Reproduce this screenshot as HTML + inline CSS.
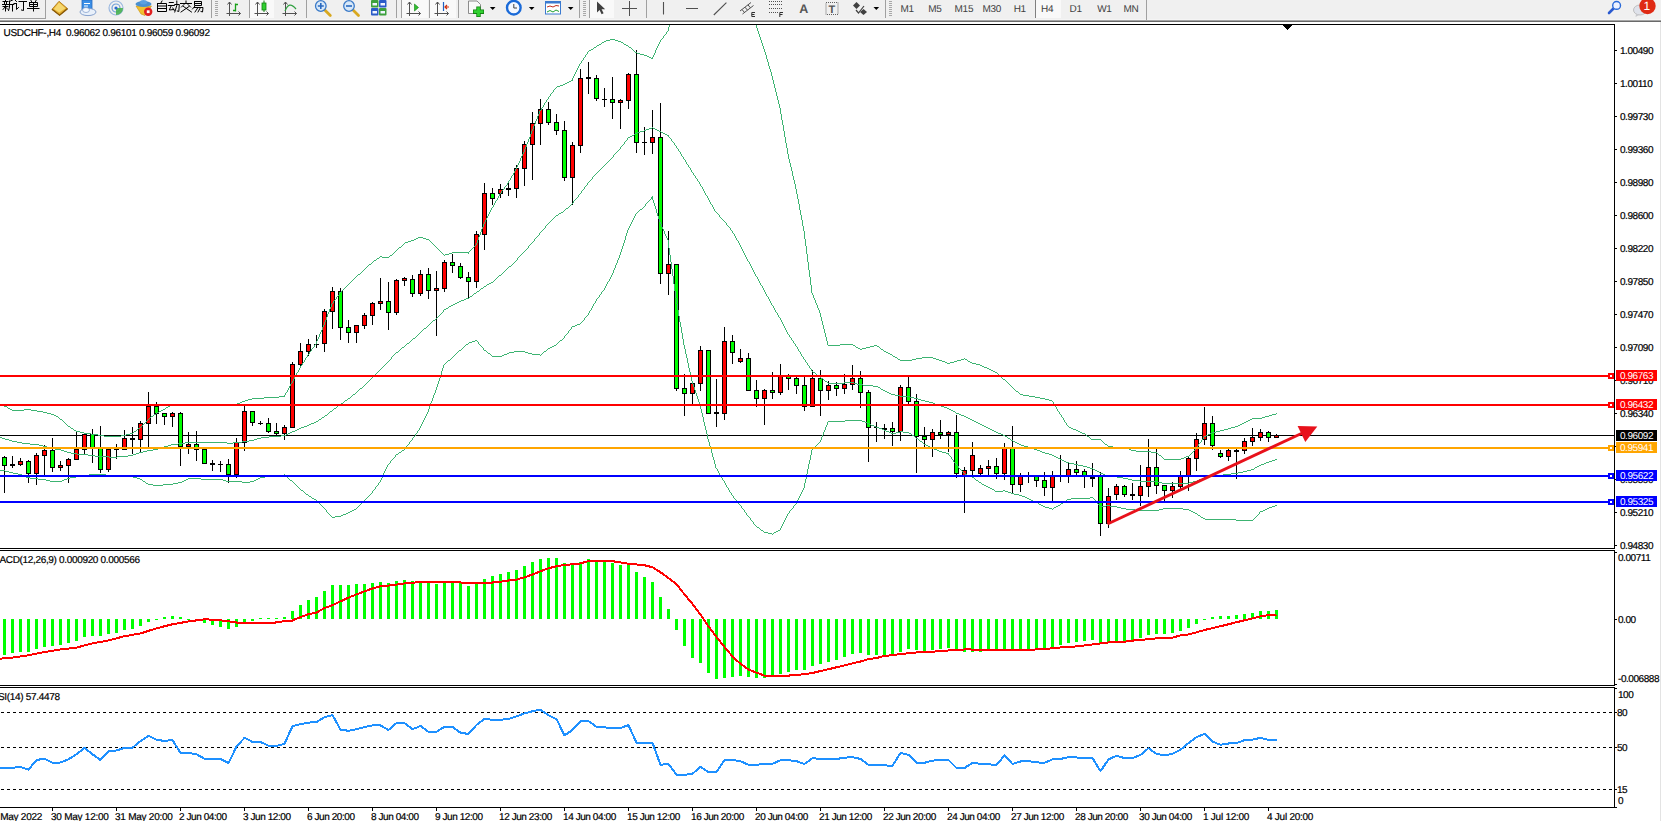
<!DOCTYPE html>
<html><head><meta charset="utf-8"><title>USDCHF H4</title>
<style>
html,body{margin:0;padding:0;background:#fff;overflow:hidden}
#w{position:absolute;left:0;top:0;width:1661px;height:821px;overflow:hidden}
body{width:1661px;height:821px;overflow:hidden;position:relative;font-family:"Liberation Sans",sans-serif}
svg{position:absolute;left:0;top:0;display:block}
.t{position:absolute;white-space:nowrap;font-size:10px;line-height:11px;color:#000;text-rendering:geometricPrecision;-webkit-text-stroke:0.2px currentColor}
.b{position:absolute;left:1616px;width:41px;height:10px;padding-top:1px;color:#fff;font-size:10px;line-height:11px;text-rendering:geometricPrecision;letter-spacing:-0.45px;text-indent:4px;white-space:nowrap;overflow:hidden}
</style></head><body><div id="w">
<svg width="1661" height="821" viewBox="0 0 1661 821" shape-rendering="crispEdges"><defs><clipPath id="cm"><rect x="0" y="25" width="1614" height="523"/></clipPath></defs><rect x="0" y="0" width="1661" height="19" fill="#f0f0f0"/><rect x="0" y="19" width="1661" height="1" fill="#f5f5f5"/><rect x="0" y="20" width="1661" height="1" fill="#a6a6a6"/><rect x="0" y="21" width="1661" height="1" fill="#696969"/><rect x="1660" y="22" width="1" height="799" fill="#e3e3e3"/><rect x="0" y="18" width="46" height="1" fill="#a0a0a0"/><rect x="45" y="0" width="1" height="19" fill="#a0a0a0"/><rect x="250" y="0" width="24" height="18" fill="#f9f9f9"/><rect x="402" y="0" width="26" height="18" fill="#f9f9f9"/><rect x="430" y="0" width="26" height="18" fill="#f9f9f9"/><rect x="590" y="0" width="24" height="18" fill="#f9f9f9"/><rect x="1036" y="0" width="25" height="18" fill="#f9f9f9"/><rect x="211" y="0" width="1" height="18" fill="#a0a0a0"/><rect x="249" y="0" width="1" height="18" fill="#a0a0a0"/><rect x="306" y="0" width="1" height="18" fill="#a0a0a0"/><rect x="396" y="0" width="1" height="18" fill="#a0a0a0"/><rect x="401" y="0" width="1" height="18" fill="#a0a0a0"/><rect x="429" y="0" width="1" height="18" fill="#a0a0a0"/><rect x="458" y="0" width="1" height="18" fill="#a0a0a0"/><rect x="579" y="0" width="1" height="18" fill="#a0a0a0"/><rect x="589" y="0" width="1" height="18" fill="#a0a0a0"/><rect x="646" y="0" width="1" height="18" fill="#a0a0a0"/><rect x="885" y="0" width="1" height="18" fill="#a0a0a0"/><rect x="1035" y="0" width="1" height="18" fill="#808080"/><rect x="1146" y="0" width="1" height="20" fill="#a0a0a0"/><rect x="215" y="1" width="3" height="1" fill="#a8a8a8"/><rect x="215" y="3" width="3" height="1" fill="#a8a8a8"/><rect x="215" y="5" width="3" height="1" fill="#a8a8a8"/><rect x="215" y="7" width="3" height="1" fill="#a8a8a8"/><rect x="215" y="9" width="3" height="1" fill="#a8a8a8"/><rect x="215" y="11" width="3" height="1" fill="#a8a8a8"/><rect x="215" y="13" width="3" height="1" fill="#a8a8a8"/><rect x="215" y="15" width="3" height="1" fill="#a8a8a8"/><rect x="583" y="1" width="3" height="1" fill="#a8a8a8"/><rect x="583" y="3" width="3" height="1" fill="#a8a8a8"/><rect x="583" y="5" width="3" height="1" fill="#a8a8a8"/><rect x="583" y="7" width="3" height="1" fill="#a8a8a8"/><rect x="583" y="9" width="3" height="1" fill="#a8a8a8"/><rect x="583" y="11" width="3" height="1" fill="#a8a8a8"/><rect x="583" y="13" width="3" height="1" fill="#a8a8a8"/><rect x="583" y="15" width="3" height="1" fill="#a8a8a8"/><rect x="889" y="1" width="3" height="1" fill="#a8a8a8"/><rect x="889" y="3" width="3" height="1" fill="#a8a8a8"/><rect x="889" y="5" width="3" height="1" fill="#a8a8a8"/><rect x="889" y="7" width="3" height="1" fill="#a8a8a8"/><rect x="889" y="9" width="3" height="1" fill="#a8a8a8"/><rect x="889" y="11" width="3" height="1" fill="#a8a8a8"/><rect x="889" y="13" width="3" height="1" fill="#a8a8a8"/><rect x="889" y="15" width="3" height="1" fill="#a8a8a8"/><g shape-rendering="geometricPrecision"><path d="M5.5 -1.0 L5.5 0.5M3.0 1.5 L8.0 1.5M4.5 2.5 L4.5 4.0M6.5 2.5 L6.5 4.0M2.5 4.5 L8.5 4.5M3.0 6.5 L8.0 6.5M5.5 4.5 L5.5 11.0M5.0 7.0 L3.0 9.5M6.0 7.5 L8.0 9.5M13.0 -0.2 L10.0 1.2M9.5 1.0 L9.5 7.0 L8.6 10.5M9.5 4.5 L13.8 4.5M12.5 4.5 L12.5 11.0" fill="none" stroke="#000" stroke-width="1.0" stroke-linecap="square"/><path d="M15.0 0.0 L16.5 1.5M14.0 3.5 L16.5 3.5M16.5 3.5 L16.5 9.5 L18.5 7.5M19.0 1.5 L26.5 1.5M23.5 1.5 L23.5 10.5 L21.5 10.0" fill="none" stroke="#000" stroke-width="1.0" stroke-linecap="square"/><path d="M30.5 -0.5 L31.5 1.5M36.5 -0.5 L35.5 1.5M29.5 2.5 L37.5 2.5 L37.5 6.5 L29.5 6.5 L29.5 2.5M29.5 4.5 L37.5 4.5M33.5 2.5 L33.5 11.0M27.5 8.5 L39.0 8.5" fill="none" stroke="#000" stroke-width="1.0" stroke-linecap="square"/><path d="M162.0 1.0 L161.0 2.8M157.5 3.5 L166.5 3.5 L166.5 11.5 L157.5 11.5 L157.5 3.5M157.5 6.0 L166.5 6.0M157.5 8.5 L166.5 8.5" fill="none" stroke="#000" stroke-width="1.0" stroke-linecap="square"/><path d="M169.3 2.5 L173.3 2.5M168.3 5.5 L174.3 5.5M171.3 5.5 L169.3 10.0 L173.8 9.5M172.8 8.0 L174.3 10.5M174.8 4.5 L179.3 4.5 L178.8 11.5 L177.3 11.0M176.8 1.0 L176.8 5.5 L174.8 12.0" fill="none" stroke="#000" stroke-width="1.0" stroke-linecap="square"/><path d="M186.0 1.0 L186.0 2.5M180.5 3.5 L191.5 3.5M184.0 4.5 L181.5 7.0M188.0 4.5 L190.5 7.0M189.0 6.5 L181.0 12.0M183.5 6.5 L191.5 12.0" fill="none" stroke="#000" stroke-width="1.0" stroke-linecap="square"/><path d="M194.5 1.5 L201.5 1.5 L201.5 5.5 L194.5 5.5 L194.5 1.5M194.5 3.5 L201.5 3.5M195.0 6.0 L192.5 9.0M194.5 7.5 L203.0 7.5 L202.5 12.0 L201.0 11.5M198.0 7.5 L195.0 12.0M200.5 7.5 L198.0 12.0" fill="none" stroke="#000" stroke-width="1.0" stroke-linecap="square"/><polygon points="59,1.3 67.5,8.6 59.6,15.2 52,9.3" fill="#e6b030" stroke="#a87010" stroke-width="0.8"/><polygon points="59,2.5 65.5,8.2 59.3,12.6 54,9" fill="#f6d870"/><path d="M52 9.3 L59.6 15.2 L67.5 8.6" fill="none" stroke="#8a5a08" stroke-width="1.4"/><rect x="82" y="0" width="10" height="10" fill="#3a8ee6" stroke="#2a6cc0" stroke-width="0.8"/><rect x="84" y="3" width="6" height="1" fill="#fff"/><rect x="84" y="5.5" width="4" height="1" fill="#fff"/><ellipse cx="88" cy="12" rx="8" ry="3.6" fill="#e8f0fa" stroke="#7a98c8" stroke-width="0.9"/><ellipse cx="86" cy="10" rx="3.5" ry="2.5" fill="#f4f8fd" stroke="#7a98c8" stroke-width="0.7"/><circle cx="116" cy="8" r="7" fill="none" stroke="#9ab8e0" stroke-width="1.2"/><circle cx="116" cy="8" r="4" fill="none" stroke="#6f9fd8" stroke-width="1.2"/><path d="M116 8 L116 15 A7 7 0 0 0 123 8 Z" fill="#46b050" opacity="0.9"/><circle cx="116" cy="8" r="1.6" fill="#2a6ad0"/><polygon points="136,6 151.5,6 145,15.5 141,14" fill="#f0c030" stroke="#c89010" stroke-width="0.6"/><ellipse cx="143.5" cy="4" rx="8" ry="3" fill="#4a90d0"/><ellipse cx="143.5" cy="2.2" rx="3.5" ry="2.2" fill="#5aa0e0"/><circle cx="148.2" cy="11.7" r="4.2" fill="#e02020"/><rect x="146.8" y="10.3" width="2.8" height="2.8" fill="#fff"/><path d="M229.5 2 V16 M226.5 13.5 H240.5" stroke="#505050" stroke-width="1" fill="none"/><path d="M227.5 4.5 L229.5 2 L231.5 4.5 M238.5 11.5 L240.5 13.5 L238.5 15.5" stroke="#505050" stroke-width="1" fill="none"/><path d="M235.5 3.5 V11.5 M233 10.5 H235.5 M235.5 4.5 H238" stroke="#18a018" stroke-width="1.3" fill="none"/><path d="M257.5 2 V16 M254.5 13.5 H268.5" stroke="#505050" stroke-width="1" fill="none"/><path d="M255.5 4.5 L257.5 2 L259.5 4.5 M266.5 11.5 L268.5 13.5 L266.5 15.5" stroke="#505050" stroke-width="1" fill="none"/><rect x="262" y="3" width="4" height="7" fill="#30d030" stroke="#108010" stroke-width="0.8"/><path d="M264 0.5 V3 M264 10 V12" stroke="#108010" stroke-width="1"/><path d="M285.5 2 V16 M282.5 13.5 H296.5" stroke="#505050" stroke-width="1" fill="none"/><path d="M283.5 4.5 L285.5 2 L287.5 4.5 M294.5 11.5 L296.5 13.5 L294.5 15.5" stroke="#505050" stroke-width="1" fill="none"/><path d="M285 11 C288 4 291 3 296 9" stroke="#30a040" stroke-width="1.2" fill="none"/><path d="M409.5 2 V16 M406.5 13.5 H420.5" stroke="#505050" stroke-width="1" fill="none"/><path d="M407.5 4.5 L409.5 2 L411.5 4.5 M418.5 11.5 L420.5 13.5 L418.5 15.5" stroke="#505050" stroke-width="1" fill="none"/><polygon points="414.5,4 418.5,7.5 414.5,11" fill="#30c030" stroke="#108010" stroke-width="0.6"/><path d="M437.5 2 V16 M434.5 13.5 H448.5" stroke="#505050" stroke-width="1" fill="none"/><path d="M435.5 4.5 L437.5 2 L439.5 4.5 M446.5 11.5 L448.5 13.5 L446.5 15.5" stroke="#505050" stroke-width="1" fill="none"/><path d="M443.5 2 V11" stroke="#2060c0" stroke-width="1.2"/><path d="M445 7 H449 M447 5 L445 7 L447 9" stroke="#d03010" stroke-width="1.2" fill="none"/><path d="M324.8 10 L330.3 15.5" stroke="#d8a820" stroke-width="2.8" stroke-linecap="round"/><circle cx="320.8" cy="6" r="5.3" fill="#d8e8f8" stroke="#3a7ac8" stroke-width="1.3"/><path d="M317.8 6 H323.8 M320.8 3 V9" stroke="#2a6ac0" stroke-width="1.6"/><path d="M353 10 L358.5 15.5" stroke="#d8a820" stroke-width="2.8" stroke-linecap="round"/><circle cx="349" cy="6" r="5.3" fill="#d8e8f8" stroke="#3a7ac8" stroke-width="1.3"/><path d="M346 6 H352" stroke="#2a6ac0" stroke-width="1.6"/><rect x="371" y="0" width="7.5" height="7.5" rx="1" fill="#3ca03c"/><rect x="372.5" y="3" width="4.5" height="2.5" fill="#f0f4ff"/><rect x="379" y="0" width="7.5" height="7.5" rx="1" fill="#2a5cc8"/><rect x="380.5" y="3" width="4.5" height="2.5" fill="#f0f4ff"/><rect x="371" y="8" width="7.5" height="7.5" rx="1" fill="#2a5cc8"/><rect x="372.5" y="11" width="4.5" height="2.5" fill="#f0f4ff"/><rect x="379" y="8" width="7.5" height="7.5" rx="1" fill="#3ca03c"/><rect x="380.5" y="11" width="4.5" height="2.5" fill="#f0f4ff"/><path d="M468.5 1 H477 L480.5 4.5 V13.5 H468.5 Z" fill="#fafafa" stroke="#808080" stroke-width="0.9"/><path d="M478.5 6.5 V17 M473 11.7 H484" stroke="#108010" stroke-width="4.4"/><path d="M478.5 7.2 V16.3 M473.7 11.7 H483.3" stroke="#30d030" stroke-width="2.8"/><polygon points="489.9,7 495.5,7 492.7,10" fill="#000"/><polygon points="528.9000000000001,7 534.5,7 531.7,10" fill="#000"/><polygon points="567.9000000000001,7 573.5,7 570.7,10" fill="#000"/><polygon points="873.5,7 879.0999999999999,7 876.3,10" fill="#000"/><circle cx="513.8" cy="7.7" r="6.8" fill="#f4f8ff" stroke="#1a6ad8" stroke-width="2.4"/><path d="M513.8 4 V8 H517" stroke="#404040" stroke-width="1" fill="none"/><rect x="545.5" y="1.5" width="15" height="12.5" fill="#fff" stroke="#3a7ad0" stroke-width="1"/><rect x="545.5" y="1.5" width="15" height="2" fill="#3a7ad0"/><path d="M547 7 L550 6 L553 7 L556 5.5 L559 6" stroke="#c03020" stroke-width="1" fill="none"/><path d="M547 12 L550 10.5 L553 12 L556 10 L559 11.5" stroke="#20a030" stroke-width="1" fill="none"/><polygon points="597,1.5 597,12.5 599.6,10 601.6,14.3 603.6,13.3 601.6,9.2 605.2,9.2" fill="#404040"/><path d="M622 8.5 H637 M629.5 1 V16" stroke="#505050" stroke-width="1" fill="none"/><path d="M663.5 2 V14.5 M686 8.5 H698 M713.8 15 L726.4 2.6" stroke="#505050" stroke-width="1.1" fill="none"/><path d="M740 11 L751 2.5 M742.5 14 L753.5 5.5 M742 9.5 L744.5 12.5 M745 7.2 L747.5 10.2 M748 4.9 L750.5 7.9" stroke="#505050" stroke-width="1" fill="none"/><path d="M755 12.5 H751.8 V16.5 H755 M751.8 14.5 H754.5" stroke="#303030" stroke-width="1" fill="none"/><line x1="769" y1="1.5" x2="782" y2="1.5" stroke="#505050" stroke-width="1" stroke-dasharray="1 1"/><line x1="769" y1="4.5" x2="782" y2="4.5" stroke="#505050" stroke-width="1" stroke-dasharray="1 1"/><line x1="769" y1="8.5" x2="782" y2="8.5" stroke="#505050" stroke-width="1" stroke-dasharray="1 1"/><line x1="769" y1="12.5" x2="778" y2="12.5" stroke="#505050" stroke-width="1" stroke-dasharray="1 1"/><path d="M783 12.5 H779.8 V17 M779.8 14.5 H782.5" stroke="#303030" stroke-width="1" fill="none"/><rect x="826" y="2.5" width="12" height="12" fill="none" stroke="#606060" stroke-width="1" stroke-dasharray="1 1"/><polygon points="856.5,2 860,5.5 856.5,9 853,5.5" fill="#404040"/><polygon points="863.5,9 867,12 863.5,15 860,12" fill="#404040"/><path d="M856 10 L858.5 13 L864 6" stroke="#404040" stroke-width="1.2" fill="none"/><path d="M1613.5 8.5 L1609 13" stroke="#2a5ad0" stroke-width="2.6" stroke-linecap="round"/><circle cx="1616.6" cy="5.4" r="3.9" fill="#eef2ff" stroke="#2a6ad8" stroke-width="1.4"/><ellipse cx="1640" cy="10" rx="6.5" ry="5" fill="#dfe2ea" stroke="#b4b4b4" stroke-width="0.8"/><polygon points="1636,14 1635.5,17 1639.5,14.8" fill="#c8c8cc"/><circle cx="1647.5" cy="6" r="8.2" fill="#df2a14"/></g><rect x="0" y="24" width="1615" height="1" fill="#000"/><rect x="1614" y="24" width="1" height="784" fill="#000"/><rect x="0" y="548" width="1615" height="1" fill="#000"/><rect x="0" y="550" width="1615" height="1" fill="#000"/><rect x="0" y="685" width="1615" height="1" fill="#000"/><rect x="0" y="687" width="1615" height="1" fill="#000"/><rect x="0" y="807" width="1615" height="1" fill="#000"/><rect x="1614" y="549" width="1" height="1" fill="#fff"/><rect x="1614" y="686" width="1" height="1" fill="#fff"/><rect x="1283" y="25" width="9" height="1" fill="#000"/><rect x="1284" y="26" width="7" height="1" fill="#000"/><rect x="1285" y="27" width="5" height="1" fill="#000"/><rect x="1286" y="28" width="3" height="1" fill="#000"/><rect x="1287" y="29" width="1" height="1" fill="#000"/><rect x="1615" y="50" width="2" height="1" fill="#000"/><rect x="1615" y="83" width="2" height="1" fill="#000"/><rect x="1615" y="116" width="2" height="1" fill="#000"/><rect x="1615" y="149" width="2" height="1" fill="#000"/><rect x="1615" y="182" width="2" height="1" fill="#000"/><rect x="1615" y="215" width="2" height="1" fill="#000"/><rect x="1615" y="248" width="2" height="1" fill="#000"/><rect x="1615" y="281" width="2" height="1" fill="#000"/><rect x="1615" y="314" width="2" height="1" fill="#000"/><rect x="1615" y="347" width="2" height="1" fill="#000"/><rect x="1615" y="380" width="2" height="1" fill="#000"/><rect x="1615" y="413" width="2" height="1" fill="#000"/><rect x="1615" y="446" width="2" height="1" fill="#000"/><rect x="1615" y="479" width="2" height="1" fill="#000"/><rect x="1615" y="512" width="2" height="1" fill="#000"/><rect x="1615" y="545" width="2" height="1" fill="#000"/><rect x="1615" y="552" width="2" height="1" fill="#000"/><rect x="1615" y="619" width="2" height="1" fill="#000"/><rect x="1615" y="684" width="2" height="1" fill="#000"/><rect x="1615" y="688" width="2" height="1" fill="#000"/><rect x="1615" y="712" width="2" height="1" fill="#000"/><rect x="1615" y="747" width="2" height="1" fill="#000"/><rect x="1615" y="789" width="2" height="1" fill="#000"/><rect x="1615" y="807" width="2" height="1" fill="#000"/><rect x="52" y="808" width="1" height="3" fill="#000"/><rect x="116" y="808" width="1" height="3" fill="#000"/><rect x="180" y="808" width="1" height="3" fill="#000"/><rect x="244" y="808" width="1" height="3" fill="#000"/><rect x="308" y="808" width="1" height="3" fill="#000"/><rect x="372" y="808" width="1" height="3" fill="#000"/><rect x="436" y="808" width="1" height="3" fill="#000"/><rect x="500" y="808" width="1" height="3" fill="#000"/><rect x="564" y="808" width="1" height="3" fill="#000"/><rect x="628" y="808" width="1" height="3" fill="#000"/><rect x="692" y="808" width="1" height="3" fill="#000"/><rect x="756" y="808" width="1" height="3" fill="#000"/><rect x="820" y="808" width="1" height="3" fill="#000"/><rect x="884" y="808" width="1" height="3" fill="#000"/><rect x="948" y="808" width="1" height="3" fill="#000"/><rect x="1012" y="808" width="1" height="3" fill="#000"/><rect x="1076" y="808" width="1" height="3" fill="#000"/><rect x="1140" y="808" width="1" height="3" fill="#000"/><rect x="1204" y="808" width="1" height="3" fill="#000"/><rect x="1268" y="808" width="1" height="3" fill="#000"/><g clip-path="url(#cm)"><rect x="0" y="435" width="1614" height="1" fill="#000"/><rect x="4" y="456" width="1" height="37" fill="#000"/><rect x="2" y="457" width="5" height="9" fill="#000"/><rect x="3" y="458" width="3" height="7" fill="#0f0"/><rect x="12" y="456" width="1" height="12" fill="#000"/><rect x="10" y="464" width="5" height="2" fill="#000"/><rect x="20" y="458" width="1" height="8" fill="#000"/><rect x="18" y="461" width="5" height="4" fill="#000"/><rect x="19" y="462" width="3" height="2" fill="#f00"/><rect x="28" y="460" width="1" height="23" fill="#000"/><rect x="26" y="461" width="5" height="13" fill="#000"/><rect x="27" y="462" width="3" height="11" fill="#0f0"/><rect x="36" y="453" width="1" height="32" fill="#000"/><rect x="34" y="455" width="5" height="19" fill="#000"/><rect x="35" y="456" width="3" height="17" fill="#f00"/><rect x="44" y="445" width="1" height="30" fill="#000"/><rect x="42" y="450" width="5" height="6" fill="#000"/><rect x="43" y="451" width="3" height="4" fill="#f00"/><rect x="52" y="438" width="1" height="34" fill="#000"/><rect x="50" y="450" width="5" height="18" fill="#000"/><rect x="51" y="451" width="3" height="16" fill="#0f0"/><rect x="60" y="461" width="1" height="10" fill="#000"/><rect x="58" y="465" width="5" height="3" fill="#000"/><rect x="59" y="466" width="3" height="1" fill="#f00"/><rect x="68" y="458" width="1" height="25" fill="#000"/><rect x="66" y="459" width="5" height="7" fill="#000"/><rect x="67" y="460" width="3" height="5" fill="#f00"/><rect x="76" y="432" width="1" height="28" fill="#000"/><rect x="74" y="449" width="5" height="11" fill="#000"/><rect x="75" y="450" width="3" height="9" fill="#f00"/><rect x="84" y="433" width="1" height="21" fill="#000"/><rect x="82" y="434" width="5" height="16" fill="#000"/><rect x="83" y="435" width="3" height="14" fill="#f00"/><rect x="92" y="429" width="1" height="34" fill="#000"/><rect x="90" y="434" width="5" height="15" fill="#000"/><rect x="91" y="435" width="3" height="13" fill="#0f0"/><rect x="100" y="426" width="1" height="47" fill="#000"/><rect x="98" y="448" width="5" height="22" fill="#000"/><rect x="99" y="449" width="3" height="20" fill="#0f0"/><rect x="108" y="449" width="1" height="23" fill="#000"/><rect x="106" y="449" width="5" height="21" fill="#000"/><rect x="107" y="450" width="3" height="19" fill="#f00"/><rect x="116" y="444" width="1" height="15" fill="#000"/><rect x="114" y="449" width="5" height="1" fill="#000"/><rect x="124" y="430" width="1" height="20" fill="#000"/><rect x="122" y="438" width="5" height="12" fill="#000"/><rect x="123" y="439" width="3" height="10" fill="#f00"/><rect x="132" y="427" width="1" height="27" fill="#000"/><rect x="130" y="438" width="5" height="2" fill="#000"/><rect x="140" y="421" width="1" height="31" fill="#000"/><rect x="138" y="423" width="5" height="17" fill="#000"/><rect x="139" y="424" width="3" height="15" fill="#f00"/><rect x="148" y="392" width="1" height="55" fill="#000"/><rect x="146" y="406" width="5" height="18" fill="#000"/><rect x="147" y="407" width="3" height="16" fill="#f00"/><rect x="156" y="402" width="1" height="22" fill="#000"/><rect x="154" y="406" width="5" height="8" fill="#000"/><rect x="155" y="407" width="3" height="6" fill="#0f0"/><rect x="164" y="413" width="1" height="12" fill="#000"/><rect x="162" y="413" width="5" height="4" fill="#000"/><rect x="163" y="414" width="3" height="2" fill="#0f0"/><rect x="172" y="412" width="1" height="15" fill="#000"/><rect x="170" y="413" width="5" height="4" fill="#000"/><rect x="171" y="414" width="3" height="2" fill="#f00"/><rect x="180" y="412" width="1" height="54" fill="#000"/><rect x="178" y="413" width="5" height="34" fill="#000"/><rect x="179" y="414" width="3" height="32" fill="#0f0"/><rect x="188" y="432" width="1" height="22" fill="#000"/><rect x="186" y="444" width="5" height="3" fill="#000"/><rect x="187" y="445" width="3" height="1" fill="#f00"/><rect x="196" y="431" width="1" height="30" fill="#000"/><rect x="194" y="444" width="5" height="6" fill="#000"/><rect x="195" y="445" width="3" height="4" fill="#0f0"/><rect x="204" y="449" width="1" height="15" fill="#000"/><rect x="202" y="449" width="5" height="15" fill="#000"/><rect x="203" y="450" width="3" height="13" fill="#0f0"/><rect x="212" y="460" width="1" height="11" fill="#000"/><rect x="210" y="463" width="5" height="2" fill="#000"/><rect x="220" y="461" width="1" height="11" fill="#000"/><rect x="218" y="464" width="5" height="1" fill="#000"/><rect x="228" y="459" width="1" height="24" fill="#000"/><rect x="226" y="464" width="5" height="11" fill="#000"/><rect x="227" y="465" width="3" height="9" fill="#0f0"/><rect x="236" y="438" width="1" height="40" fill="#000"/><rect x="234" y="442" width="5" height="33" fill="#000"/><rect x="235" y="443" width="3" height="31" fill="#f00"/><rect x="244" y="406" width="1" height="45" fill="#000"/><rect x="242" y="411" width="5" height="32" fill="#000"/><rect x="243" y="412" width="3" height="30" fill="#f00"/><rect x="252" y="411" width="1" height="15" fill="#000"/><rect x="250" y="411" width="5" height="12" fill="#000"/><rect x="251" y="412" width="3" height="10" fill="#0f0"/><rect x="260" y="421" width="1" height="4" fill="#000"/><rect x="258" y="423" width="5" height="1" fill="#000"/><rect x="268" y="418" width="1" height="15" fill="#000"/><rect x="266" y="423" width="5" height="9" fill="#000"/><rect x="267" y="424" width="3" height="7" fill="#0f0"/><rect x="276" y="423" width="1" height="13" fill="#000"/><rect x="274" y="431" width="5" height="3" fill="#000"/><rect x="275" y="432" width="3" height="1" fill="#0f0"/><rect x="284" y="425" width="1" height="15" fill="#000"/><rect x="282" y="427" width="5" height="7" fill="#000"/><rect x="283" y="428" width="3" height="5" fill="#f00"/><rect x="292" y="362" width="1" height="66" fill="#000"/><rect x="290" y="364" width="5" height="64" fill="#000"/><rect x="291" y="365" width="3" height="62" fill="#f00"/><rect x="300" y="343" width="1" height="24" fill="#000"/><rect x="298" y="351" width="5" height="14" fill="#000"/><rect x="299" y="352" width="3" height="12" fill="#f00"/><rect x="308" y="339" width="1" height="17" fill="#000"/><rect x="306" y="344" width="5" height="8" fill="#000"/><rect x="307" y="345" width="3" height="6" fill="#f00"/><rect x="316" y="335" width="1" height="13" fill="#000"/><rect x="314" y="344" width="5" height="1" fill="#000"/><rect x="324" y="309" width="1" height="43" fill="#000"/><rect x="322" y="311" width="5" height="33" fill="#000"/><rect x="323" y="312" width="3" height="31" fill="#f00"/><rect x="332" y="287" width="1" height="42" fill="#000"/><rect x="330" y="291" width="5" height="21" fill="#000"/><rect x="331" y="292" width="3" height="19" fill="#f00"/><rect x="340" y="288" width="1" height="52" fill="#000"/><rect x="338" y="291" width="5" height="37" fill="#000"/><rect x="339" y="292" width="3" height="35" fill="#0f0"/><rect x="348" y="320" width="1" height="23" fill="#000"/><rect x="346" y="327" width="5" height="6" fill="#000"/><rect x="347" y="328" width="3" height="4" fill="#0f0"/><rect x="356" y="325" width="1" height="18" fill="#000"/><rect x="354" y="325" width="5" height="8" fill="#000"/><rect x="355" y="326" width="3" height="6" fill="#f00"/><rect x="364" y="313" width="1" height="16" fill="#000"/><rect x="362" y="315" width="5" height="11" fill="#000"/><rect x="363" y="316" width="3" height="9" fill="#f00"/><rect x="372" y="302" width="1" height="23" fill="#000"/><rect x="370" y="303" width="5" height="13" fill="#000"/><rect x="371" y="304" width="3" height="11" fill="#f00"/><rect x="380" y="278" width="1" height="32" fill="#000"/><rect x="378" y="301" width="5" height="3" fill="#000"/><rect x="379" y="302" width="3" height="1" fill="#f00"/><rect x="388" y="282" width="1" height="48" fill="#000"/><rect x="386" y="301" width="5" height="12" fill="#000"/><rect x="387" y="302" width="3" height="10" fill="#0f0"/><rect x="396" y="279" width="1" height="36" fill="#000"/><rect x="394" y="280" width="5" height="33" fill="#000"/><rect x="395" y="281" width="3" height="31" fill="#f00"/><rect x="404" y="277" width="1" height="9" fill="#000"/><rect x="402" y="278" width="5" height="3" fill="#000"/><rect x="403" y="279" width="3" height="1" fill="#f00"/><rect x="412" y="275" width="1" height="22" fill="#000"/><rect x="410" y="279" width="5" height="15" fill="#000"/><rect x="411" y="280" width="3" height="13" fill="#0f0"/><rect x="420" y="270" width="1" height="26" fill="#000"/><rect x="418" y="274" width="5" height="20" fill="#000"/><rect x="419" y="275" width="3" height="18" fill="#f00"/><rect x="428" y="268" width="1" height="31" fill="#000"/><rect x="426" y="274" width="5" height="17" fill="#000"/><rect x="427" y="275" width="3" height="15" fill="#0f0"/><rect x="436" y="271" width="1" height="65" fill="#000"/><rect x="434" y="288" width="5" height="3" fill="#000"/><rect x="435" y="289" width="3" height="1" fill="#f00"/><rect x="444" y="260" width="1" height="32" fill="#000"/><rect x="442" y="262" width="5" height="27" fill="#000"/><rect x="443" y="263" width="3" height="25" fill="#f00"/><rect x="452" y="254" width="1" height="19" fill="#000"/><rect x="450" y="262" width="5" height="4" fill="#000"/><rect x="451" y="263" width="3" height="2" fill="#0f0"/><rect x="460" y="263" width="1" height="16" fill="#000"/><rect x="458" y="266" width="5" height="12" fill="#000"/><rect x="459" y="267" width="3" height="10" fill="#0f0"/><rect x="468" y="272" width="1" height="26" fill="#000"/><rect x="466" y="277" width="5" height="5" fill="#000"/><rect x="467" y="278" width="3" height="3" fill="#0f0"/><rect x="476" y="231" width="1" height="57" fill="#000"/><rect x="474" y="234" width="5" height="48" fill="#000"/><rect x="475" y="235" width="3" height="46" fill="#f00"/><rect x="484" y="183" width="1" height="67" fill="#000"/><rect x="482" y="193" width="5" height="42" fill="#000"/><rect x="483" y="194" width="3" height="40" fill="#f00"/><rect x="492" y="188" width="1" height="17" fill="#000"/><rect x="490" y="193" width="5" height="6" fill="#000"/><rect x="491" y="194" width="3" height="4" fill="#0f0"/><rect x="500" y="184" width="1" height="14" fill="#000"/><rect x="498" y="189" width="5" height="5" fill="#000"/><rect x="499" y="190" width="3" height="3" fill="#f00"/><rect x="508" y="181" width="1" height="15" fill="#000"/><rect x="506" y="188" width="5" height="2" fill="#000"/><rect x="516" y="165" width="1" height="33" fill="#000"/><rect x="514" y="168" width="5" height="21" fill="#000"/><rect x="515" y="169" width="3" height="19" fill="#f00"/><rect x="524" y="141" width="1" height="45" fill="#000"/><rect x="522" y="144" width="5" height="25" fill="#000"/><rect x="523" y="145" width="3" height="23" fill="#f00"/><rect x="532" y="112" width="1" height="68" fill="#000"/><rect x="530" y="123" width="5" height="22" fill="#000"/><rect x="531" y="124" width="3" height="20" fill="#f00"/><rect x="540" y="99" width="1" height="46" fill="#000"/><rect x="538" y="109" width="5" height="15" fill="#000"/><rect x="539" y="110" width="3" height="13" fill="#f00"/><rect x="548" y="102" width="1" height="23" fill="#000"/><rect x="546" y="109" width="5" height="14" fill="#000"/><rect x="547" y="110" width="3" height="12" fill="#0f0"/><rect x="556" y="114" width="1" height="21" fill="#000"/><rect x="554" y="122" width="5" height="9" fill="#000"/><rect x="555" y="123" width="3" height="7" fill="#0f0"/><rect x="564" y="121" width="1" height="60" fill="#000"/><rect x="562" y="130" width="5" height="48" fill="#000"/><rect x="563" y="131" width="3" height="46" fill="#0f0"/><rect x="572" y="142" width="1" height="63" fill="#000"/><rect x="570" y="145" width="5" height="33" fill="#000"/><rect x="571" y="146" width="3" height="31" fill="#f00"/><rect x="580" y="69" width="1" height="84" fill="#000"/><rect x="578" y="78" width="5" height="68" fill="#000"/><rect x="579" y="79" width="3" height="66" fill="#f00"/><rect x="588" y="62" width="1" height="32" fill="#000"/><rect x="586" y="77" width="5" height="2" fill="#000"/><rect x="596" y="75" width="1" height="26" fill="#000"/><rect x="594" y="78" width="5" height="21" fill="#000"/><rect x="595" y="79" width="3" height="19" fill="#0f0"/><rect x="604" y="88" width="1" height="19" fill="#000"/><rect x="602" y="99" width="5" height="1" fill="#000"/><rect x="612" y="77" width="1" height="42" fill="#000"/><rect x="610" y="99" width="5" height="4" fill="#000"/><rect x="611" y="100" width="3" height="2" fill="#0f0"/><rect x="620" y="99" width="1" height="30" fill="#000"/><rect x="618" y="100" width="5" height="3" fill="#000"/><rect x="619" y="101" width="3" height="1" fill="#f00"/><rect x="628" y="73" width="1" height="36" fill="#000"/><rect x="626" y="74" width="5" height="27" fill="#000"/><rect x="627" y="75" width="3" height="25" fill="#f00"/><rect x="636" y="50" width="1" height="103" fill="#000"/><rect x="634" y="74" width="5" height="69" fill="#000"/><rect x="635" y="75" width="3" height="67" fill="#0f0"/><rect x="644" y="127" width="1" height="28" fill="#000"/><rect x="642" y="142" width="5" height="1" fill="#000"/><rect x="652" y="110" width="1" height="44" fill="#000"/><rect x="650" y="137" width="5" height="6" fill="#000"/><rect x="651" y="138" width="3" height="4" fill="#f00"/><rect x="660" y="103" width="1" height="181" fill="#000"/><rect x="658" y="137" width="5" height="137" fill="#000"/><rect x="659" y="138" width="3" height="135" fill="#0f0"/><rect x="668" y="231" width="1" height="64" fill="#000"/><rect x="666" y="264" width="5" height="10" fill="#000"/><rect x="667" y="265" width="3" height="8" fill="#f00"/><rect x="676" y="264" width="1" height="127" fill="#000"/><rect x="674" y="264" width="5" height="125" fill="#000"/><rect x="675" y="265" width="3" height="123" fill="#0f0"/><rect x="684" y="374" width="1" height="42" fill="#000"/><rect x="682" y="388" width="5" height="6" fill="#000"/><rect x="683" y="389" width="3" height="4" fill="#0f0"/><rect x="692" y="383" width="1" height="21" fill="#000"/><rect x="690" y="383" width="5" height="11" fill="#000"/><rect x="691" y="384" width="3" height="9" fill="#f00"/><rect x="700" y="346" width="1" height="45" fill="#000"/><rect x="698" y="350" width="5" height="34" fill="#000"/><rect x="699" y="351" width="3" height="32" fill="#f00"/><rect x="708" y="350" width="1" height="64" fill="#000"/><rect x="706" y="350" width="5" height="64" fill="#000"/><rect x="707" y="351" width="3" height="62" fill="#0f0"/><rect x="716" y="379" width="1" height="48" fill="#000"/><rect x="714" y="412" width="5" height="2" fill="#000"/><rect x="724" y="327" width="1" height="93" fill="#000"/><rect x="722" y="341" width="5" height="73" fill="#000"/><rect x="723" y="342" width="3" height="71" fill="#f00"/><rect x="732" y="335" width="1" height="29" fill="#000"/><rect x="730" y="341" width="5" height="12" fill="#000"/><rect x="731" y="342" width="3" height="10" fill="#0f0"/><rect x="740" y="349" width="1" height="14" fill="#000"/><rect x="738" y="358" width="5" height="4" fill="#000"/><rect x="739" y="359" width="3" height="2" fill="#f00"/><rect x="748" y="353" width="1" height="38" fill="#000"/><rect x="746" y="358" width="5" height="33" fill="#000"/><rect x="747" y="359" width="3" height="31" fill="#0f0"/><rect x="756" y="380" width="1" height="27" fill="#000"/><rect x="754" y="390" width="5" height="9" fill="#000"/><rect x="755" y="391" width="3" height="7" fill="#0f0"/><rect x="764" y="389" width="1" height="36" fill="#000"/><rect x="762" y="390" width="5" height="9" fill="#000"/><rect x="763" y="391" width="3" height="7" fill="#f00"/><rect x="772" y="372" width="1" height="27" fill="#000"/><rect x="770" y="390" width="5" height="3" fill="#000"/><rect x="771" y="391" width="3" height="1" fill="#0f0"/><rect x="780" y="364" width="1" height="31" fill="#000"/><rect x="778" y="376" width="5" height="17" fill="#000"/><rect x="779" y="377" width="3" height="15" fill="#f00"/><rect x="788" y="374" width="1" height="16" fill="#000"/><rect x="786" y="376" width="5" height="3" fill="#000"/><rect x="787" y="377" width="3" height="1" fill="#0f0"/><rect x="796" y="377" width="1" height="17" fill="#000"/><rect x="794" y="378" width="5" height="8" fill="#000"/><rect x="795" y="379" width="3" height="6" fill="#0f0"/><rect x="804" y="377" width="1" height="34" fill="#000"/><rect x="802" y="385" width="5" height="22" fill="#000"/><rect x="803" y="386" width="3" height="20" fill="#0f0"/><rect x="812" y="370" width="1" height="37" fill="#000"/><rect x="810" y="378" width="5" height="29" fill="#000"/><rect x="811" y="379" width="3" height="27" fill="#f00"/><rect x="820" y="370" width="1" height="46" fill="#000"/><rect x="818" y="378" width="5" height="13" fill="#000"/><rect x="819" y="379" width="3" height="11" fill="#0f0"/><rect x="828" y="381" width="1" height="19" fill="#000"/><rect x="826" y="385" width="5" height="6" fill="#000"/><rect x="827" y="386" width="3" height="4" fill="#f00"/><rect x="836" y="382" width="1" height="14" fill="#000"/><rect x="834" y="385" width="5" height="4" fill="#000"/><rect x="835" y="386" width="3" height="2" fill="#0f0"/><rect x="844" y="374" width="1" height="20" fill="#000"/><rect x="842" y="384" width="5" height="5" fill="#000"/><rect x="843" y="385" width="3" height="3" fill="#f00"/><rect x="852" y="365" width="1" height="25" fill="#000"/><rect x="850" y="378" width="5" height="7" fill="#000"/><rect x="851" y="379" width="3" height="5" fill="#f00"/><rect x="860" y="371" width="1" height="37" fill="#000"/><rect x="858" y="378" width="5" height="15" fill="#000"/><rect x="859" y="379" width="3" height="13" fill="#0f0"/><rect x="868" y="390" width="1" height="72" fill="#000"/><rect x="866" y="392" width="5" height="36" fill="#000"/><rect x="867" y="393" width="3" height="34" fill="#0f0"/><rect x="876" y="422" width="1" height="20" fill="#000"/><rect x="874" y="427" width="5" height="1" fill="#000"/><rect x="884" y="424" width="1" height="15" fill="#000"/><rect x="882" y="428" width="5" height="2" fill="#000"/><rect x="892" y="422" width="1" height="24" fill="#000"/><rect x="890" y="428" width="5" height="4" fill="#000"/><rect x="891" y="429" width="3" height="2" fill="#0f0"/><rect x="900" y="385" width="1" height="56" fill="#000"/><rect x="898" y="387" width="5" height="45" fill="#000"/><rect x="899" y="388" width="3" height="43" fill="#f00"/><rect x="908" y="377" width="1" height="27" fill="#000"/><rect x="906" y="387" width="5" height="15" fill="#000"/><rect x="907" y="388" width="3" height="13" fill="#0f0"/><rect x="916" y="394" width="1" height="79" fill="#000"/><rect x="914" y="401" width="5" height="36" fill="#000"/><rect x="915" y="402" width="3" height="34" fill="#0f0"/><rect x="924" y="427" width="1" height="20" fill="#000"/><rect x="922" y="436" width="5" height="4" fill="#000"/><rect x="923" y="437" width="3" height="2" fill="#0f0"/><rect x="932" y="429" width="1" height="28" fill="#000"/><rect x="930" y="432" width="5" height="8" fill="#000"/><rect x="931" y="433" width="3" height="6" fill="#f00"/><rect x="940" y="420" width="1" height="19" fill="#000"/><rect x="938" y="432" width="5" height="3" fill="#000"/><rect x="939" y="433" width="3" height="1" fill="#0f0"/><rect x="948" y="431" width="1" height="21" fill="#000"/><rect x="946" y="432" width="5" height="3" fill="#000"/><rect x="947" y="433" width="3" height="1" fill="#f00"/><rect x="956" y="415" width="1" height="63" fill="#000"/><rect x="954" y="432" width="5" height="42" fill="#000"/><rect x="955" y="433" width="3" height="40" fill="#0f0"/><rect x="964" y="467" width="1" height="46" fill="#000"/><rect x="962" y="470" width="5" height="6" fill="#000"/><rect x="963" y="471" width="3" height="4" fill="#f00"/><rect x="972" y="442" width="1" height="34" fill="#000"/><rect x="970" y="455" width="5" height="16" fill="#000"/><rect x="971" y="456" width="3" height="14" fill="#f00"/><rect x="980" y="465" width="1" height="11" fill="#000"/><rect x="978" y="468" width="5" height="6" fill="#000"/><rect x="979" y="469" width="3" height="4" fill="#f00"/><rect x="988" y="460" width="1" height="16" fill="#000"/><rect x="986" y="466" width="5" height="3" fill="#000"/><rect x="987" y="467" width="3" height="1" fill="#f00"/><rect x="996" y="458" width="1" height="21" fill="#000"/><rect x="994" y="466" width="5" height="8" fill="#000"/><rect x="995" y="467" width="3" height="6" fill="#0f0"/><rect x="1004" y="443" width="1" height="37" fill="#000"/><rect x="1002" y="447" width="5" height="27" fill="#000"/><rect x="1003" y="448" width="3" height="25" fill="#f00"/><rect x="1012" y="426" width="1" height="67" fill="#000"/><rect x="1010" y="447" width="5" height="38" fill="#000"/><rect x="1011" y="448" width="3" height="36" fill="#0f0"/><rect x="1020" y="473" width="1" height="19" fill="#000"/><rect x="1018" y="476" width="5" height="9" fill="#000"/><rect x="1019" y="477" width="3" height="7" fill="#f00"/><rect x="1028" y="472" width="1" height="11" fill="#000"/><rect x="1026" y="476" width="5" height="1" fill="#000"/><rect x="1036" y="476" width="1" height="11" fill="#000"/><rect x="1034" y="476" width="5" height="5" fill="#000"/><rect x="1035" y="477" width="3" height="3" fill="#0f0"/><rect x="1044" y="472" width="1" height="24" fill="#000"/><rect x="1042" y="480" width="5" height="8" fill="#000"/><rect x="1043" y="481" width="3" height="6" fill="#0f0"/><rect x="1052" y="471" width="1" height="30" fill="#000"/><rect x="1050" y="476" width="5" height="12" fill="#000"/><rect x="1051" y="477" width="3" height="10" fill="#f00"/><rect x="1060" y="455" width="1" height="27" fill="#000"/><rect x="1058" y="476" width="5" height="1" fill="#000"/><rect x="1068" y="462" width="1" height="21" fill="#000"/><rect x="1066" y="469" width="5" height="7" fill="#000"/><rect x="1067" y="470" width="3" height="5" fill="#f00"/><rect x="1076" y="461" width="1" height="15" fill="#000"/><rect x="1074" y="469" width="5" height="4" fill="#000"/><rect x="1075" y="470" width="3" height="2" fill="#0f0"/><rect x="1084" y="469" width="1" height="19" fill="#000"/><rect x="1082" y="471" width="5" height="6" fill="#000"/><rect x="1083" y="472" width="3" height="4" fill="#0f0"/><rect x="1092" y="463" width="1" height="24" fill="#000"/><rect x="1090" y="477" width="5" height="2" fill="#000"/><rect x="1100" y="472" width="1" height="64" fill="#000"/><rect x="1098" y="476" width="5" height="48" fill="#000"/><rect x="1099" y="477" width="3" height="46" fill="#0f0"/><rect x="1108" y="488" width="1" height="40" fill="#000"/><rect x="1106" y="496" width="5" height="28" fill="#000"/><rect x="1107" y="497" width="3" height="26" fill="#f00"/><rect x="1116" y="484" width="1" height="16" fill="#000"/><rect x="1114" y="486" width="5" height="9" fill="#000"/><rect x="1115" y="487" width="3" height="7" fill="#f00"/><rect x="1124" y="485" width="1" height="12" fill="#000"/><rect x="1122" y="486" width="5" height="9" fill="#000"/><rect x="1123" y="487" width="3" height="7" fill="#0f0"/><rect x="1132" y="483" width="1" height="17" fill="#000"/><rect x="1130" y="494" width="5" height="2" fill="#000"/><rect x="1140" y="465" width="1" height="41" fill="#000"/><rect x="1138" y="486" width="5" height="10" fill="#000"/><rect x="1139" y="487" width="3" height="8" fill="#f00"/><rect x="1148" y="439" width="1" height="58" fill="#000"/><rect x="1146" y="467" width="5" height="20" fill="#000"/><rect x="1147" y="468" width="3" height="18" fill="#f00"/><rect x="1156" y="449" width="1" height="45" fill="#000"/><rect x="1154" y="467" width="5" height="19" fill="#000"/><rect x="1155" y="468" width="3" height="17" fill="#0f0"/><rect x="1164" y="485" width="1" height="16" fill="#000"/><rect x="1162" y="485" width="5" height="6" fill="#000"/><rect x="1163" y="486" width="3" height="4" fill="#0f0"/><rect x="1172" y="482" width="1" height="16" fill="#000"/><rect x="1170" y="486" width="5" height="5" fill="#000"/><rect x="1171" y="487" width="3" height="3" fill="#f00"/><rect x="1180" y="471" width="1" height="18" fill="#000"/><rect x="1178" y="476" width="5" height="11" fill="#000"/><rect x="1179" y="477" width="3" height="9" fill="#f00"/><rect x="1188" y="456" width="1" height="35" fill="#000"/><rect x="1186" y="458" width="5" height="19" fill="#000"/><rect x="1187" y="459" width="3" height="17" fill="#f00"/><rect x="1196" y="433" width="1" height="38" fill="#000"/><rect x="1194" y="439" width="5" height="20" fill="#000"/><rect x="1195" y="440" width="3" height="18" fill="#f00"/><rect x="1204" y="407" width="1" height="38" fill="#000"/><rect x="1202" y="423" width="5" height="17" fill="#000"/><rect x="1203" y="424" width="3" height="15" fill="#f00"/><rect x="1212" y="416" width="1" height="34" fill="#000"/><rect x="1210" y="423" width="5" height="23" fill="#000"/><rect x="1211" y="424" width="3" height="21" fill="#0f0"/><rect x="1220" y="450" width="1" height="8" fill="#000"/><rect x="1218" y="453" width="5" height="4" fill="#000"/><rect x="1219" y="454" width="3" height="2" fill="#0f0"/><rect x="1228" y="449" width="1" height="12" fill="#000"/><rect x="1226" y="450" width="5" height="7" fill="#000"/><rect x="1227" y="451" width="3" height="5" fill="#f00"/><rect x="1236" y="449" width="1" height="30" fill="#000"/><rect x="1234" y="450" width="5" height="2" fill="#000"/><rect x="1244" y="438" width="1" height="16" fill="#000"/><rect x="1242" y="441" width="5" height="10" fill="#000"/><rect x="1243" y="442" width="3" height="8" fill="#f00"/><rect x="1252" y="428" width="1" height="18" fill="#000"/><rect x="1250" y="437" width="5" height="5" fill="#000"/><rect x="1251" y="438" width="3" height="3" fill="#f00"/><rect x="1260" y="429" width="1" height="12" fill="#000"/><rect x="1258" y="432" width="5" height="6" fill="#000"/><rect x="1259" y="433" width="3" height="4" fill="#f00"/><rect x="1268" y="431" width="1" height="11" fill="#000"/><rect x="1266" y="432" width="5" height="6" fill="#000"/><rect x="1267" y="433" width="3" height="4" fill="#0f0"/><rect x="1276" y="434" width="1" height="4" fill="#000"/><rect x="1274" y="435" width="5" height="3" fill="#000"/><rect x="1275" y="436" width="3" height="1" fill="#f00"/><path d="M0 405h3v1h-3zM3 405h1v1h-1zM4 406h2v1h-2zM6 406h1v1h-1zM7 407h1v1h-1zM8 408h1v1h-1zM9 408h1v1h-1zM10 409h1v1h-1zM11 409h1v1h-1zM12 410h11v1h-11zM23 410h1v1h-1zM24 409h6v1h-6zM30 409h1v1h-1zM31 410h5v1h-5zM36 410h1v1h-1zM37 411h5v1h-5zM42 411h1v1h-1zM43 412h3v1h-3zM46 412h1v1h-1zM47 413h3v1h-3zM50 413h1v1h-1zM51 414h2v1h-2zM53 414h1v1h-1zM54 415h1v1h-1zM55 415h1v1h-1zM56 416h1v1h-1zM57 416h1v1h-1zM58 417h1v1h-1zM59 418h1v1h-1zM60 419h1v1h-1zM61 419h1v1h-1zM62 420h1v1h-1zM63 421h1v1h-1zM64 422h1v1h-1zM65 423h1v1h-1zM66 424h1v1h-1zM67 425h1v1h-1zM68 426h1v1h-1zM69 426h1v1h-1zM70 427h1v1h-1zM71 428h1v1h-1zM72 428h1v1h-1zM73 429h1v1h-1zM74 430h1v1h-1zM75 430h1v1h-1zM76 431h3v1h-3zM79 431h1v1h-1zM80 432h3v1h-3zM83 432h1v1h-1zM84 433h6v1h-6zM90 433h1v1h-1zM91 434h6v1h-6zM97 434h1v1h-1zM98 435h5v1h-5zM103 435h1v1h-1zM104 436h16v1h-16zM120 436h1v1h-1zM121 435h4v1h-4zM125 435h1v1h-1zM126 434h3v1h-3zM129 434h1v1h-1zM130 433h2v1h-2zM132 433h1v1h-1zM133 432h1v1h-1zM134 431h1v1h-1zM135 431h1v1h-1zM136 430h1v1h-1zM137 429h1v1h-1zM138 428h1v1h-1zM139 428h1v1h-1zM140 427h1v1h-1zM141 426h1v1h-1zM142 425h1v1h-1zM143 424h1v1h-1zM144 423h1v1h-1zM145 422h1v1h-1zM146 421h1v1h-1zM147 420h1v1h-1zM148 419h1v1h-1zM149 418h1v1h-1zM150 417h1v1h-1zM151 416h1v1h-1zM152 416h1v1h-1zM153 415h1v1h-1zM154 414h1v1h-1zM155 414h1v1h-1zM156 413h1v1h-1zM157 412h1v1h-1zM158 412h1v1h-1zM159 411h1v1h-1zM160 411h1v1h-1zM161 410h1v1h-1zM162 410h1v1h-1zM163 409h1v1h-1zM164 409h1v1h-1zM165 408h1v1h-1zM166 407h1v1h-1zM167 407h1v1h-1zM168 406h1v1h-1zM169 406h1v1h-1zM170 405h1v1h-1zM171 405h1v1h-1zM172 404h9v1h-9zM181 404h1v1h-1zM182 405h43v1h-43zM225 405h1v1h-1zM226 404h10v1h-10zM236 404h1v1h-1zM237 403h2v1h-2zM239 403h1v1h-1zM240 402h1v1h-1zM241 402h1v1h-1zM242 401h2v1h-2zM244 401h1v1h-1zM245 400h2v1h-2zM247 400h1v1h-1zM248 399h3v1h-3zM251 399h1v1h-1zM252 398h11v1h-11zM263 398h1v1h-1zM264 397h14v1h-14zM278 397h1v1h-1zM279 396h5v1h-5zM284 395h1v2h-1zM285 393h1v2h-1zM286 392h1v1h-1zM287 390h1v2h-1zM288 388h1v2h-1zM289 386h1v2h-1zM290 384h1v2h-1zM291 383h1v1h-1zM292 381h1v2h-1zM293 379h1v2h-1zM294 377h1v2h-1zM295 375h1v2h-1zM296 373h1v2h-1zM297 372h1v1h-1zM298 370h1v2h-1zM299 368h1v2h-1zM300 366h1v2h-1zM301 365h1v1h-1zM302 363h1v2h-1zM303 362h1v1h-1zM304 360h1v2h-1zM305 358h1v2h-1zM306 357h1v1h-1zM307 355h1v2h-1zM308 354h1v1h-1zM309 352h1v2h-1zM310 351h1v1h-1zM311 349h1v2h-1zM312 348h1v1h-1zM313 347h1v1h-1zM314 345h1v2h-1zM315 344h1v1h-1zM316 341h1v3h-1zM317 339h1v2h-1zM318 337h1v2h-1zM319 334h1v3h-1zM320 332h1v2h-1zM321 330h1v2h-1zM322 327h1v3h-1zM323 325h1v2h-1zM324 322h1v3h-1zM325 320h1v2h-1zM326 317h1v3h-1zM327 314h1v3h-1zM328 312h1v2h-1zM329 309h1v3h-1zM330 307h1v2h-1zM331 304h1v3h-1zM332 303h1v1h-1zM333 301h1v2h-1zM334 300h1v1h-1zM335 299h1v1h-1zM336 297h1v2h-1zM337 296h1v1h-1zM338 295h1v1h-1zM339 293h1v2h-1zM340 292h1v1h-1zM341 291h1v1h-1zM342 290h1v1h-1zM343 289h1v1h-1zM344 288h1v1h-1zM345 287h1v1h-1zM346 286h1v1h-1zM347 285h1v1h-1zM348 284h1v1h-1zM349 283h1v1h-1zM350 282h1v1h-1zM351 281h1v1h-1zM352 280h1v1h-1zM353 279h1v1h-1zM354 278h1v1h-1zM355 277h1v1h-1zM356 276h1v1h-1zM357 275h1v1h-1zM358 274h1v1h-1zM359 274h1v1h-1zM360 273h1v1h-1zM361 272h1v1h-1zM362 271h1v1h-1zM363 270h1v1h-1zM364 269h1v1h-1zM365 268h1v1h-1zM366 267h1v1h-1zM367 266h1v1h-1zM368 265h1v1h-1zM369 264h1v1h-1zM370 264h1v1h-1zM371 263h1v1h-1zM372 262h1v1h-1zM373 261h1v1h-1zM374 260h1v1h-1zM375 260h1v1h-1zM376 259h1v1h-1zM377 258h1v1h-1zM378 258h1v1h-1zM379 257h1v1h-1zM380 256h1v1h-1zM381 256h1v1h-1zM382 257h6v1h-6zM388 257h1v1h-1zM389 256h1v1h-1zM390 255h1v1h-1zM391 255h1v1h-1zM392 254h1v1h-1zM393 253h1v1h-1zM394 252h1v1h-1zM395 251h1v1h-1zM396 250h1v1h-1zM397 249h1v1h-1zM398 248h1v1h-1zM399 247h1v1h-1zM400 247h1v1h-1zM401 246h1v1h-1zM402 245h1v1h-1zM403 244h1v1h-1zM404 243h1v1h-1zM405 242h2v1h-2zM407 242h1v1h-1zM408 241h2v1h-2zM410 241h1v1h-1zM411 240h2v1h-2zM413 240h1v1h-1zM414 239h1v1h-1zM415 239h1v1h-1zM416 238h1v1h-1zM417 238h1v1h-1zM418 237h4v1h-4zM422 237h1v1h-1zM423 238h2v1h-2zM425 238h1v1h-1zM426 239h2v1h-2zM428 239h1v1h-1zM429 240h1v1h-1zM430 241h1v1h-1zM431 242h1v1h-1zM432 243h1v1h-1zM433 244h1v1h-1zM434 245h1v1h-1zM435 246h1v1h-1zM436 247h1v1h-1zM437 248h1v1h-1zM438 249h1v1h-1zM439 250h1v1h-1zM440 251h1v1h-1zM441 252h1v1h-1zM442 253h1v1h-1zM443 254h1v1h-1zM444 255h1v1h-1zM445 254h3v1h-3zM448 254h1v1h-1zM449 253h2v1h-2zM451 253h1v1h-1zM452 252h15v1h-15zM467 252h1v1h-1zM468 252h1v2h-1zM469 251h1v1h-1zM470 250h1v1h-1zM471 249h1v1h-1zM472 248h1v1h-1zM473 247h1v1h-1zM474 246h1v1h-1zM475 245h1v1h-1zM476 243h1v2h-1zM477 240h1v3h-1zM478 237h1v3h-1zM479 235h1v2h-1zM480 232h1v3h-1zM481 229h1v3h-1zM482 227h1v2h-1zM483 224h1v3h-1zM484 222h1v2h-1zM485 220h1v2h-1zM486 218h1v2h-1zM487 216h1v2h-1zM488 214h1v2h-1zM489 212h1v2h-1zM490 210h1v2h-1zM491 208h1v2h-1zM492 207h1v1h-1zM493 205h1v2h-1zM494 203h1v2h-1zM495 201h1v2h-1zM496 200h1v1h-1zM497 198h1v2h-1zM498 196h1v2h-1zM499 194h1v2h-1zM500 193h1v1h-1zM501 191h1v2h-1zM502 190h1v1h-1zM503 189h1v1h-1zM504 187h1v2h-1zM505 186h1v1h-1zM506 185h1v1h-1zM507 183h1v2h-1zM508 181h1v2h-1zM509 180h1v1h-1zM510 178h1v2h-1zM511 176h1v2h-1zM512 175h1v1h-1zM513 173h1v2h-1zM514 171h1v2h-1zM515 169h1v2h-1zM516 167h1v2h-1zM517 165h1v2h-1zM518 163h1v2h-1zM519 161h1v2h-1zM520 158h1v3h-1zM521 156h1v2h-1zM522 154h1v2h-1zM523 152h1v2h-1zM524 149h1v3h-1zM525 147h1v2h-1zM526 144h1v3h-1zM527 142h1v2h-1zM528 139h1v3h-1zM529 137h1v2h-1zM530 134h1v3h-1zM531 131h1v3h-1zM532 129h1v2h-1zM533 126h1v3h-1zM534 124h1v2h-1zM535 121h1v3h-1zM536 119h1v2h-1zM537 116h1v3h-1zM538 114h1v2h-1zM539 111h1v3h-1zM540 110h1v1h-1zM541 108h1v2h-1zM542 107h1v1h-1zM543 105h1v2h-1zM544 103h1v2h-1zM545 102h1v1h-1zM546 100h1v2h-1zM547 99h1v1h-1zM548 97h1v2h-1zM549 96h1v1h-1zM550 94h1v2h-1zM551 93h1v1h-1zM552 92h1v1h-1zM553 90h1v2h-1zM554 89h1v1h-1zM555 88h1v1h-1zM556 87h1v1h-1zM557 86h2v1h-2zM559 86h1v1h-1zM560 85h2v1h-2zM562 85h1v1h-1zM563 84h1v1h-1zM564 84h1v1h-1zM565 83h1v1h-1zM566 83h1v1h-1zM567 82h1v1h-1zM568 82h1v1h-1zM569 81h1v1h-1zM570 81h1v1h-1zM571 80h1v1h-1zM572 78h1v3h-1zM573 76h1v2h-1zM574 74h1v2h-1zM575 72h1v2h-1zM576 70h1v2h-1zM577 68h1v2h-1zM578 66h1v2h-1zM579 64h1v2h-1zM580 63h1v1h-1zM581 61h1v2h-1zM582 60h1v1h-1zM583 58h1v2h-1zM584 57h1v1h-1zM585 55h1v2h-1zM586 54h1v1h-1zM587 52h1v2h-1zM588 51h1v1h-1zM589 50h1v1h-1zM590 50h1v1h-1zM591 49h1v1h-1zM592 49h1v1h-1zM593 48h1v1h-1zM594 47h1v1h-1zM595 47h1v1h-1zM596 46h1v1h-1zM597 45h1v1h-1zM598 45h1v1h-1zM599 44h1v1h-1zM600 44h1v1h-1zM601 43h1v1h-1zM602 42h1v1h-1zM603 42h1v1h-1zM604 41h1v1h-1zM605 41h1v1h-1zM606 40h3v1h-3zM609 40h1v1h-1zM610 39h4v1h-4zM614 39h1v1h-1zM615 40h2v1h-2zM617 40h1v1h-1zM618 41h2v1h-2zM620 41h1v1h-1zM621 42h1v1h-1zM622 42h1v1h-1zM623 43h1v1h-1zM624 44h1v1h-1zM625 44h1v1h-1zM626 45h1v1h-1zM627 45h1v1h-1zM628 46h1v1h-1zM629 47h1v1h-1zM630 47h1v1h-1zM631 48h1v1h-1zM632 49h1v1h-1zM633 50h1v1h-1zM634 51h1v1h-1zM635 52h1v1h-1zM636 52h1v1h-1zM637 53h2v1h-2zM639 53h1v1h-1zM640 54h3v1h-3zM643 54h1v1h-1zM644 55h2v1h-2zM646 55h1v1h-1zM647 56h1v1h-1zM648 56h1v1h-1zM649 57h1v1h-1zM650 57h1v1h-1zM651 58h1v1h-1zM652 57h1v2h-1zM653 55h1v2h-1zM654 53h1v2h-1zM655 50h1v3h-1zM656 48h1v2h-1zM657 46h1v2h-1zM658 44h1v2h-1zM659 42h1v2h-1zM660 40h1v2h-1zM661 39h1v1h-1zM662 38h1v1h-1zM663 36h1v2h-1zM664 35h1v1h-1zM665 34h1v1h-1zM666 32h1v2h-1zM667 31h1v1h-1zM668 27h1v4h-1zM669 22h1v5h-1zM670 18h1v4h-1zM671 13h1v5h-1zM672 9h1v4h-1zM673 4h1v5h-1zM674 0h1v4h-1zM675 -5h1v5h-1zM676 -7h1v2h-1zM677 -10h1v3h-1zM678 -13h1v3h-1zM679 -16h1v3h-1zM680 -18h1v2h-1zM681 -21h1v3h-1zM682 -24h1v3h-1zM683 -27h1v3h-1zM684 -28h1v1h-1zM685 -29h1v1h-1zM686 -30h1v1h-1zM687 -32h1v2h-1zM688 -33h1v1h-1zM689 -34h1v1h-1zM690 -36h1v2h-1zM691 -37h1v1h-1zM692 -38h6v1h-6zM698 -38h1v1h-1zM699 -37h1v1h-1zM700 -37h1v1h-1zM701 -38h1v1h-1zM702 -39h1v1h-1zM703 -39h1v1h-1zM704 -40h1v1h-1zM705 -40h1v1h-1zM706 -41h1v1h-1zM707 -41h1v1h-1zM708 -42h4v1h-4zM712 -42h1v1h-1zM713 -43h4v1h-4zM717 -43h1v1h-1zM718 -42h1v1h-1zM719 -42h1v1h-1zM720 -41h2v1h-2zM722 -41h1v1h-1zM723 -40h1v1h-1zM724 -40h1v1h-1zM725 -39h1v1h-1zM726 -38h1v1h-1zM727 -38h1v1h-1zM728 -37h1v1h-1zM729 -36h1v1h-1zM730 -35h1v1h-1zM731 -34h1v1h-1zM732 -33h1v2h-1zM733 -31h1v2h-1zM734 -29h1v2h-1zM735 -27h1v3h-1zM736 -24h1v2h-1zM737 -22h1v2h-1zM738 -20h1v3h-1zM739 -17h1v2h-1zM740 -15h1v2h-1zM741 -13h1v3h-1zM742 -10h1v2h-1zM743 -8h1v3h-1zM744 -5h1v3h-1zM745 -2h1v2h-1zM746 0h1v3h-1zM747 3h1v2h-1zM748 5h1v3h-1zM749 8h1v2h-1zM750 10h1v3h-1zM751 13h1v2h-1zM752 15h1v3h-1zM753 18h1v2h-1zM754 20h1v3h-1zM755 23h1v2h-1zM756 25h1v3h-1zM757 28h1v3h-1zM758 31h1v3h-1zM759 34h1v3h-1zM760 37h1v3h-1zM761 40h1v3h-1zM762 43h1v3h-1zM763 46h1v3h-1zM764 49h1v3h-1zM765 52h1v3h-1zM766 55h1v4h-1zM767 59h1v3h-1zM768 62h1v4h-1zM769 66h1v3h-1zM770 69h1v3h-1zM771 72h1v4h-1zM772 76h1v4h-1zM773 80h1v4h-1zM774 84h1v4h-1zM775 88h1v4h-1zM776 92h1v4h-1zM777 96h1v4h-1zM778 100h1v4h-1zM779 104h1v4h-1zM780 108h1v6h-1zM781 114h1v6h-1zM782 120h1v5h-1zM783 125h1v6h-1zM784 131h1v6h-1zM785 137h1v6h-1zM786 143h1v5h-1zM787 148h1v6h-1zM788 154h1v5h-1zM789 159h1v4h-1zM790 163h1v4h-1zM791 167h1v4h-1zM792 171h1v5h-1zM793 176h1v4h-1zM794 180h1v4h-1zM795 184h1v5h-1zM796 189h1v5h-1zM797 194h1v5h-1zM798 199h1v5h-1zM799 204h1v6h-1zM800 210h1v5h-1zM801 215h1v5h-1zM802 220h1v6h-1zM803 226h1v5h-1zM804 231h1v8h-1zM805 239h1v7h-1zM806 246h1v8h-1zM807 254h1v8h-1zM808 262h1v8h-1zM809 270h1v7h-1zM810 277h1v8h-1zM811 285h1v8h-1zM812 293h1v2h-1zM813 295h1v3h-1zM814 298h1v2h-1zM815 300h1v3h-1zM816 303h1v2h-1zM817 305h1v3h-1zM818 308h1v2h-1zM819 310h1v3h-1zM820 313h1v4h-1zM821 317h1v4h-1zM822 321h1v4h-1zM823 325h1v4h-1zM824 329h1v4h-1zM825 333h1v4h-1zM826 337h1v4h-1zM827 341h1v4h-1zM828 345h11v1h-11zM839 345h1v1h-1zM840 344h12v1h-12zM852 344h1v1h-1zM853 345h1v1h-1zM854 345h1v1h-1zM855 346h1v1h-1zM856 347h1v1h-1zM857 347h1v1h-1zM858 348h1v1h-1zM859 348h1v1h-1zM860 349h1v1h-1zM861 349h1v1h-1zM862 348h3v1h-3zM865 348h1v1h-1zM866 347h3v1h-3zM869 347h1v1h-1zM870 346h3v1h-3zM873 346h1v1h-1zM874 345h2v1h-2zM876 345h1v1h-1zM877 346h1v1h-1zM878 346h1v1h-1zM879 347h1v1h-1zM880 348h1v1h-1zM881 349h1v1h-1zM882 349h1v1h-1zM883 350h1v1h-1zM884 351h1v1h-1zM885 351h1v1h-1zM886 352h1v1h-1zM887 352h1v1h-1zM888 353h1v1h-1zM889 353h1v1h-1zM890 354h1v1h-1zM891 354h1v1h-1zM892 355h1v1h-1zM893 356h1v1h-1zM894 356h1v1h-1zM895 357h1v1h-1zM896 357h1v1h-1zM897 358h1v1h-1zM898 359h1v1h-1zM899 359h1v1h-1zM900 360h11v1h-11zM911 360h1v1h-1zM912 359h3v1h-3zM915 359h1v1h-1zM916 358h5v1h-5zM921 358h1v1h-1zM922 357h10v1h-10zM932 357h1v1h-1zM933 358h2v1h-2zM935 358h1v1h-1zM936 359h2v1h-2zM938 359h1v1h-1zM939 360h2v1h-2zM941 360h1v1h-1zM942 361h2v1h-2zM944 361h1v1h-1zM945 362h1v1h-1zM946 362h1v1h-1zM947 363h2v1h-2zM949 363h1v1h-1zM950 362h3v1h-3zM953 362h1v1h-1zM954 361h2v1h-2zM956 361h1v1h-1zM957 360h3v1h-3zM960 360h1v1h-1zM961 359h2v1h-2zM963 359h1v1h-1zM964 358h1v1h-1zM965 359h1v1h-1zM966 359h1v1h-1zM967 360h1v1h-1zM968 361h1v1h-1zM969 361h1v1h-1zM970 362h1v1h-1zM971 362h1v1h-1zM972 363h3v1h-3zM975 363h1v1h-1zM976 364h3v1h-3zM979 364h1v1h-1zM980 365h1v1h-1zM981 365h1v1h-1zM982 366h1v1h-1zM983 366h1v1h-1zM984 367h2v1h-2zM986 367h1v1h-1zM987 368h1v1h-1zM988 368h1v1h-1zM989 369h1v1h-1zM990 369h1v1h-1zM991 370h1v1h-1zM992 370h1v1h-1zM993 371h1v1h-1zM994 371h1v1h-1zM995 372h1v1h-1zM996 372h1v1h-1zM997 373h1v1h-1zM998 374h1v1h-1zM999 375h1v1h-1zM1000 376h1v1h-1zM1001 377h1v1h-1zM1002 378h1v1h-1zM1003 379h1v1h-1zM1004 379h1v1h-1zM1005 380h1v1h-1zM1006 381h1v1h-1zM1007 382h1v1h-1zM1008 383h1v1h-1zM1009 384h1v1h-1zM1010 385h1v1h-1zM1011 386h1v1h-1zM1012 387h1v1h-1zM1013 388h1v1h-1zM1014 389h1v1h-1zM1015 390h1v1h-1zM1016 391h1v1h-1zM1017 391h1v1h-1zM1018 392h1v1h-1zM1019 393h1v1h-1zM1020 394h2v1h-2zM1022 394h1v1h-1zM1023 395h5v1h-5zM1028 395h1v1h-1zM1029 396h5v1h-5zM1034 396h1v1h-1zM1035 397h4v1h-4zM1039 397h1v1h-1zM1040 398h4v1h-4zM1044 398h1v1h-1zM1045 399h3v1h-3zM1048 399h1v1h-1zM1049 400h2v1h-2zM1051 400h1v1h-1zM1052 401h1v1h-1zM1053 402h1v2h-1zM1054 404h1v2h-1zM1055 406h1v1h-1zM1056 407h1v2h-1zM1057 409h1v2h-1zM1058 411h1v1h-1zM1059 412h1v2h-1zM1060 414h1v1h-1zM1061 415h1v2h-1zM1062 417h1v1h-1zM1063 418h1v2h-1zM1064 420h1v2h-1zM1065 422h1v1h-1zM1066 423h1v2h-1zM1067 425h1v1h-1zM1068 426h1v1h-1zM1069 427h1v1h-1zM1070 427h1v1h-1zM1071 428h1v1h-1zM1072 428h1v1h-1zM1073 429h2v1h-2zM1075 429h1v1h-1zM1076 430h1v1h-1zM1077 430h1v1h-1zM1078 431h1v1h-1zM1079 431h1v1h-1zM1080 432h1v1h-1zM1081 432h1v1h-1zM1082 433h2v1h-2zM1084 433h1v1h-1zM1085 434h1v1h-1zM1086 435h1v1h-1zM1087 436h1v1h-1zM1088 436h1v1h-1zM1089 437h1v1h-1zM1090 438h1v1h-1zM1091 439h9v1h-9zM1100 439h1v1h-1zM1101 440h1v1h-1zM1102 441h1v1h-1zM1103 442h1v1h-1zM1104 443h1v1h-1zM1105 444h1v1h-1zM1106 444h1v1h-1zM1107 445h1v1h-1zM1108 446h4v1h-4zM1112 446h1v1h-1zM1113 447h12v1h-12zM1125 447h1v1h-1zM1126 448h2v1h-2zM1128 448h1v1h-1zM1129 449h1v1h-1zM1130 449h1v1h-1zM1131 450h4v1h-4zM1135 450h1v1h-1zM1136 451h14v1h-14zM1150 451h1v1h-1zM1151 452h5v1h-5zM1156 452h1v1h-1zM1157 453h1v1h-1zM1158 454h1v1h-1zM1159 455h1v1h-1zM1160 455h1v1h-1zM1161 456h1v1h-1zM1162 457h1v1h-1zM1163 458h1v1h-1zM1164 459h16v1h-16zM1180 459h1v1h-1zM1181 458h2v1h-2zM1183 458h1v1h-1zM1184 457h1v1h-1zM1185 457h1v1h-1zM1186 456h2v1h-2zM1188 456h1v1h-1zM1189 455h1v1h-1zM1190 454h1v1h-1zM1191 453h1v1h-1zM1192 452h1v1h-1zM1193 451h1v1h-1zM1194 450h1v1h-1zM1195 449h1v1h-1zM1196 447h1v2h-1zM1197 446h1v1h-1zM1198 444h1v2h-1zM1199 443h1v1h-1zM1200 442h1v1h-1zM1201 440h1v2h-1zM1202 439h1v1h-1zM1203 437h1v2h-1zM1204 436h1v1h-1zM1205 436h1v1h-1zM1206 435h1v1h-1zM1207 435h1v1h-1zM1208 434h1v1h-1zM1209 434h1v1h-1zM1210 433h1v1h-1zM1211 433h1v1h-1zM1212 432h3v1h-3zM1215 432h1v1h-1zM1216 431h3v1h-3zM1219 431h1v1h-1zM1220 430h3v1h-3zM1223 430h1v1h-1zM1224 429h3v1h-3zM1227 429h1v1h-1zM1228 428h2v1h-2zM1230 428h1v1h-1zM1231 427h3v1h-3zM1234 427h1v1h-1zM1235 426h2v1h-2zM1237 426h1v1h-1zM1238 425h1v1h-1zM1239 425h1v1h-1zM1240 424h1v1h-1zM1241 424h1v1h-1zM1242 423h1v1h-1zM1243 423h1v1h-1zM1244 422h1v1h-1zM1245 422h1v1h-1zM1246 421h1v1h-1zM1247 421h1v1h-1zM1248 420h1v1h-1zM1249 420h1v1h-1zM1250 419h1v1h-1zM1251 419h1v1h-1zM1252 418h9v1h-9zM1261 418h1v1h-1zM1262 417h2v1h-2zM1264 417h1v1h-1zM1265 416h3v1h-3zM1268 416h1v1h-1zM1269 415h2v1h-2zM1271 415h1v1h-1zM1272 414h3v1h-3zM1275 414h1v1h-1zM1276 413h1v1h-1z" fill="#3cb371"/><path d="M0 437h1v1h-1zM1 437h1v1h-1zM2 438h2v1h-2zM4 438h1v1h-1zM5 439h3v1h-3zM8 439h1v1h-1zM9 440h2v1h-2zM11 440h1v1h-1zM12 441h4v1h-4zM16 441h1v1h-1zM17 442h4v1h-4zM21 442h1v1h-1zM22 443h7v1h-7zM29 443h1v1h-1zM30 444h8v1h-8zM38 444h1v1h-1zM39 445h3v1h-3zM42 445h1v1h-1zM43 446h3v1h-3zM46 446h1v1h-1zM47 447h2v1h-2zM49 447h1v1h-1zM50 448h4v1h-4zM54 448h1v1h-1zM55 449h5v1h-5zM60 449h1v1h-1zM61 450h2v1h-2zM63 450h1v1h-1zM64 451h2v1h-2zM66 451h1v1h-1zM67 452h3v1h-3zM70 452h1v1h-1zM71 453h5v1h-5zM76 453h1v1h-1zM77 454h10v1h-10zM87 454h1v1h-1zM88 455h6v1h-6zM94 455h1v1h-1zM95 456h13v1h-13zM108 456h1v1h-1zM109 457h7v1h-7zM116 457h1v1h-1zM117 456h10v1h-10zM127 456h1v1h-1zM128 455h4v1h-4zM132 455h1v1h-1zM133 454h2v1h-2zM135 454h1v1h-1zM136 453h2v1h-2zM138 453h1v1h-1zM139 452h3v1h-3zM142 452h1v1h-1zM143 451h3v1h-3zM146 451h1v1h-1zM147 450h5v1h-5zM152 450h1v1h-1zM153 449h4v1h-4zM157 449h1v1h-1zM158 448h2v1h-2zM160 448h1v1h-1zM161 447h2v1h-2zM163 447h1v1h-1zM164 446h3v1h-3zM167 446h1v1h-1zM168 445h2v1h-2zM170 445h1v1h-1zM171 444h6v1h-6zM177 444h1v1h-1zM178 443h6v1h-6zM184 443h1v1h-1zM185 442h41v1h-41zM226 442h1v1h-1zM227 443h5v1h-5zM232 443h1v1h-1zM233 442h8v1h-8zM241 442h1v1h-1zM242 441h6v1h-6zM248 441h1v1h-1zM249 440h4v1h-4zM253 440h1v1h-1zM254 439h2v1h-2zM256 439h1v1h-1zM257 438h3v1h-3zM260 438h1v1h-1zM261 437h7v1h-7zM268 437h1v1h-1zM269 436h11v1h-11zM280 436h1v1h-1zM281 435h4v1h-4zM285 435h1v1h-1zM286 434h1v1h-1zM287 434h1v1h-1zM288 433h1v1h-1zM289 433h1v1h-1zM290 432h1v1h-1zM291 432h1v1h-1zM292 431h2v1h-2zM294 431h1v1h-1zM295 430h1v1h-1zM296 430h1v1h-1zM297 429h1v1h-1zM298 429h1v1h-1zM299 428h1v1h-1zM300 428h1v1h-1zM301 427h2v1h-2zM303 427h1v1h-1zM304 426h2v1h-2zM306 426h1v1h-1zM307 425h1v1h-1zM308 425h1v1h-1zM309 424h1v1h-1zM310 424h1v1h-1zM311 423h2v1h-2zM313 423h1v1h-1zM314 422h1v1h-1zM315 422h1v1h-1zM316 421h1v1h-1zM317 421h1v1h-1zM318 420h1v1h-1zM319 419h1v1h-1zM320 419h1v1h-1zM321 418h1v1h-1zM322 417h1v1h-1zM323 417h1v1h-1zM324 416h1v1h-1zM325 415h1v1h-1zM326 415h1v1h-1zM327 414h1v1h-1zM328 413h1v1h-1zM329 412h1v1h-1zM330 411h1v1h-1zM331 411h1v1h-1zM332 410h1v1h-1zM333 409h1v1h-1zM334 408h1v1h-1zM335 408h1v1h-1zM336 407h1v1h-1zM337 406h1v1h-1zM338 405h1v1h-1zM339 405h1v1h-1zM340 404h1v1h-1zM341 403h1v1h-1zM342 403h1v1h-1zM343 402h1v1h-1zM344 401h1v1h-1zM345 400h1v1h-1zM346 400h1v1h-1zM347 399h1v1h-1zM348 398h1v1h-1zM349 398h1v1h-1zM350 397h1v1h-1zM351 396h1v1h-1zM352 395h1v1h-1zM353 394h1v1h-1zM354 394h1v1h-1zM355 393h1v1h-1zM356 392h1v1h-1zM357 391h1v1h-1zM358 390h1v1h-1zM359 389h1v1h-1zM360 388h1v1h-1zM361 388h1v1h-1zM362 387h1v1h-1zM363 386h1v1h-1zM364 385h1v1h-1zM365 384h1v1h-1zM366 383h1v1h-1zM367 382h1v1h-1zM368 381h1v1h-1zM369 380h1v1h-1zM370 379h1v1h-1zM371 378h1v1h-1zM372 377h1v1h-1zM373 376h1v1h-1zM374 375h1v1h-1zM375 374h1v1h-1zM376 373h1v1h-1zM377 372h1v1h-1zM378 371h1v1h-1zM379 370h1v1h-1zM380 369h1v1h-1zM381 368h1v1h-1zM382 367h1v1h-1zM383 366h1v1h-1zM384 365h1v1h-1zM385 364h1v1h-1zM386 363h1v1h-1zM387 362h1v1h-1zM388 361h1v1h-1zM389 360h1v1h-1zM390 359h1v1h-1zM391 357h1v2h-1zM392 356h1v1h-1zM393 355h1v1h-1zM394 354h1v1h-1zM395 353h1v1h-1zM396 352h1v1h-1zM397 352h1v1h-1zM398 351h1v1h-1zM399 350h1v1h-1zM400 349h1v1h-1zM401 348h1v1h-1zM402 347h1v1h-1zM403 347h1v1h-1zM404 346h1v1h-1zM405 345h1v1h-1zM406 344h1v1h-1zM407 343h1v1h-1zM408 343h1v1h-1zM409 342h1v1h-1zM410 341h1v1h-1zM411 340h1v1h-1zM412 339h1v1h-1zM413 338h1v1h-1zM414 338h1v1h-1zM415 337h1v1h-1zM416 336h1v1h-1zM417 335h1v1h-1zM418 334h1v1h-1zM419 333h1v1h-1zM420 332h1v1h-1zM421 331h1v1h-1zM422 330h1v1h-1zM423 329h1v1h-1zM424 328h1v1h-1zM425 328h1v1h-1zM426 327h1v1h-1zM427 326h1v1h-1zM428 325h1v1h-1zM429 324h1v1h-1zM430 323h1v1h-1zM431 322h1v1h-1zM432 321h1v1h-1zM433 320h1v1h-1zM434 320h1v1h-1zM435 319h1v1h-1zM436 318h1v1h-1zM437 317h1v1h-1zM438 316h1v1h-1zM439 315h1v1h-1zM440 314h1v1h-1zM441 313h1v1h-1zM442 312h1v1h-1zM443 310h1v2h-1zM444 309h1v1h-1zM445 309h1v1h-1zM446 308h1v1h-1zM447 308h1v1h-1zM448 307h1v1h-1zM449 306h1v1h-1zM450 306h1v1h-1zM451 305h1v1h-1zM452 305h1v1h-1zM453 304h1v1h-1zM454 304h1v1h-1zM455 303h1v1h-1zM456 303h1v1h-1zM457 302h1v1h-1zM458 302h1v1h-1zM459 301h1v1h-1zM460 301h1v1h-1zM461 300h2v1h-2zM463 300h1v1h-1zM464 299h1v1h-1zM465 299h1v1h-1zM466 298h2v1h-2zM468 298h1v1h-1zM469 297h1v1h-1zM470 296h1v1h-1zM471 296h1v1h-1zM472 295h1v1h-1zM473 294h1v1h-1zM474 293h1v1h-1zM475 293h1v1h-1zM476 292h1v1h-1zM477 291h1v1h-1zM478 291h1v1h-1zM479 290h1v1h-1zM480 289h1v1h-1zM481 288h1v1h-1zM482 288h1v1h-1zM483 287h1v1h-1zM484 286h1v1h-1zM485 286h1v1h-1zM486 285h1v1h-1zM487 284h1v1h-1zM488 284h1v1h-1zM489 283h1v1h-1zM490 283h1v1h-1zM491 282h1v1h-1zM492 282h1v1h-1zM493 281h1v1h-1zM494 280h1v1h-1zM495 279h1v1h-1zM496 278h1v1h-1zM497 277h1v1h-1zM498 276h1v1h-1zM499 275h1v1h-1zM500 275h1v1h-1zM501 274h1v1h-1zM502 273h1v1h-1zM503 272h1v1h-1zM504 271h1v1h-1zM505 270h1v1h-1zM506 269h1v1h-1zM507 268h1v1h-1zM508 267h1v1h-1zM509 266h1v1h-1zM510 266h1v1h-1zM511 265h1v1h-1zM512 264h1v1h-1zM513 263h1v1h-1zM514 262h1v1h-1zM515 261h1v1h-1zM516 260h1v1h-1zM517 258h1v2h-1zM518 257h1v1h-1zM519 256h1v1h-1zM520 255h1v1h-1zM521 254h1v1h-1zM522 253h1v1h-1zM523 252h1v1h-1zM524 251h1v1h-1zM525 250h1v1h-1zM526 249h1v1h-1zM527 248h1v1h-1zM528 246h1v2h-1zM529 245h1v1h-1zM530 244h1v1h-1zM531 243h1v1h-1zM532 242h1v1h-1zM533 241h1v1h-1zM534 239h1v2h-1zM535 238h1v1h-1zM536 237h1v1h-1zM537 236h1v1h-1zM538 235h1v1h-1zM539 233h1v2h-1zM540 232h1v1h-1zM541 231h1v1h-1zM542 230h1v1h-1zM543 229h1v1h-1zM544 228h1v1h-1zM545 226h1v2h-1zM546 225h1v1h-1zM547 224h1v1h-1zM548 223h1v1h-1zM549 222h1v1h-1zM550 221h1v1h-1zM551 220h1v1h-1zM552 219h1v1h-1zM553 218h1v1h-1zM554 217h1v1h-1zM555 216h1v1h-1zM556 215h1v1h-1zM557 215h1v1h-1zM558 214h1v1h-1zM559 213h1v1h-1zM560 213h1v1h-1zM561 212h1v1h-1zM562 212h1v1h-1zM563 211h1v1h-1zM564 210h1v1h-1zM565 209h1v1h-1zM566 208h1v1h-1zM567 208h1v1h-1zM568 207h1v1h-1zM569 206h1v1h-1zM570 205h1v1h-1zM571 204h1v1h-1zM572 203h1v1h-1zM573 201h1v2h-1zM574 200h1v1h-1zM575 199h1v1h-1zM576 198h1v1h-1zM577 197h1v1h-1zM578 195h1v2h-1zM579 194h1v1h-1zM580 193h1v1h-1zM581 191h1v2h-1zM582 190h1v1h-1zM583 189h1v1h-1zM584 187h1v2h-1zM585 186h1v1h-1zM586 185h1v1h-1zM587 183h1v2h-1zM588 182h1v1h-1zM589 181h1v1h-1zM590 180h1v1h-1zM591 179h1v1h-1zM592 177h1v2h-1zM593 176h1v1h-1zM594 175h1v1h-1zM595 174h1v1h-1zM596 173h1v1h-1zM597 172h1v1h-1zM598 171h1v1h-1zM599 170h1v1h-1zM600 169h1v1h-1zM601 168h1v1h-1zM602 167h1v1h-1zM603 166h1v1h-1zM604 165h1v1h-1zM605 164h1v1h-1zM606 163h1v1h-1zM607 162h1v1h-1zM608 161h1v1h-1zM609 160h1v1h-1zM610 159h1v1h-1zM611 158h1v1h-1zM612 157h1v1h-1zM613 155h1v2h-1zM614 154h1v1h-1zM615 153h1v1h-1zM616 152h1v1h-1zM617 151h1v1h-1zM618 150h1v1h-1zM619 149h1v1h-1zM620 147h1v2h-1zM621 146h1v1h-1zM622 145h1v1h-1zM623 144h1v1h-1zM624 142h1v2h-1zM625 141h1v1h-1zM626 140h1v1h-1zM627 138h1v2h-1zM628 137h1v1h-1zM629 137h1v1h-1zM630 136h1v1h-1zM631 136h1v1h-1zM632 135h1v1h-1zM633 135h1v1h-1zM634 134h1v1h-1zM635 133h1v1h-1zM636 133h1v1h-1zM637 132h2v1h-2zM639 132h1v1h-1zM640 131h3v1h-3zM643 131h1v1h-1zM644 130h1v1h-1zM645 130h1v1h-1zM646 129h2v1h-2zM648 129h1v1h-1zM649 128h2v1h-2zM651 128h1v1h-1zM652 127h1v1h-1zM653 128h1v1h-1zM654 128h1v1h-1zM655 129h1v1h-1zM656 129h1v1h-1zM657 130h1v1h-1zM658 130h1v1h-1zM659 131h1v1h-1zM660 131h1v1h-1zM661 132h1v1h-1zM662 132h1v1h-1zM663 133h1v1h-1zM664 133h1v1h-1zM665 134h1v1h-1zM666 134h1v1h-1zM667 135h1v1h-1zM668 135h1v2h-1zM669 137h1v1h-1zM670 138h1v1h-1zM671 139h1v2h-1zM672 141h1v1h-1zM673 142h1v1h-1zM674 143h1v2h-1zM675 145h1v1h-1zM676 146h1v2h-1zM677 148h1v1h-1zM678 149h1v2h-1zM679 151h1v1h-1zM680 152h1v2h-1zM681 154h1v2h-1zM682 156h1v1h-1zM683 157h1v2h-1zM684 159h1v1h-1zM685 160h1v2h-1zM686 162h1v2h-1zM687 164h1v1h-1zM688 165h1v2h-1zM689 167h1v1h-1zM690 168h1v2h-1zM691 170h1v2h-1zM692 172h1v1h-1zM693 173h1v2h-1zM694 175h1v1h-1zM695 176h1v2h-1zM696 178h1v1h-1zM697 179h1v2h-1zM698 181h1v1h-1zM699 182h1v2h-1zM700 184h1v2h-1zM701 186h1v1h-1zM702 187h1v2h-1zM703 189h1v2h-1zM704 191h1v2h-1zM705 193h1v2h-1zM706 195h1v1h-1zM707 196h1v2h-1zM708 198h1v2h-1zM709 200h1v2h-1zM710 202h1v2h-1zM711 204h1v1h-1zM712 205h1v2h-1zM713 207h1v2h-1zM714 209h1v2h-1zM715 211h1v1h-1zM716 212h1v1h-1zM717 213h1v1h-1zM718 214h1v1h-1zM719 215h1v2h-1zM720 217h1v1h-1zM721 218h1v1h-1zM722 219h1v1h-1zM723 220h1v1h-1zM724 221h1v1h-1zM725 222h1v1h-1zM726 223h1v2h-1zM727 225h1v1h-1zM728 226h1v1h-1zM729 227h1v1h-1zM730 228h1v2h-1zM731 230h1v1h-1zM732 231h1v2h-1zM733 233h1v1h-1zM734 234h1v2h-1zM735 236h1v2h-1zM736 238h1v2h-1zM737 240h1v1h-1zM738 241h1v2h-1zM739 243h1v2h-1zM740 245h1v2h-1zM741 247h1v2h-1zM742 249h1v2h-1zM743 251h1v2h-1zM744 253h1v2h-1zM745 255h1v2h-1zM746 257h1v2h-1zM747 259h1v2h-1zM748 261h1v1h-1zM749 262h1v2h-1zM750 264h1v2h-1zM751 266h1v2h-1zM752 268h1v2h-1zM753 270h1v2h-1zM754 272h1v2h-1zM755 274h1v2h-1zM756 276h1v1h-1zM757 277h1v2h-1zM758 279h1v2h-1zM759 281h1v2h-1zM760 283h1v2h-1zM761 285h1v1h-1zM762 286h1v2h-1zM763 288h1v2h-1zM764 290h1v2h-1zM765 292h1v2h-1zM766 294h1v2h-1zM767 296h1v1h-1zM768 297h1v2h-1zM769 299h1v2h-1zM770 301h1v2h-1zM771 303h1v2h-1zM772 305h1v1h-1zM773 306h1v2h-1zM774 308h1v2h-1zM775 310h1v2h-1zM776 312h1v1h-1zM777 313h1v2h-1zM778 315h1v2h-1zM779 317h1v1h-1zM780 318h1v2h-1zM781 320h1v2h-1zM782 322h1v2h-1zM783 324h1v2h-1zM784 326h1v2h-1zM785 328h1v2h-1zM786 330h1v2h-1zM787 332h1v2h-1zM788 334h1v1h-1zM789 335h1v2h-1zM790 337h1v1h-1zM791 338h1v2h-1zM792 340h1v1h-1zM793 341h1v2h-1zM794 343h1v1h-1zM795 344h1v2h-1zM796 346h1v1h-1zM797 347h1v2h-1zM798 349h1v2h-1zM799 351h1v1h-1zM800 352h1v2h-1zM801 354h1v2h-1zM802 356h1v1h-1zM803 357h1v2h-1zM804 359h1v1h-1zM805 360h1v2h-1zM806 362h1v1h-1zM807 363h1v2h-1zM808 365h1v1h-1zM809 366h1v2h-1zM810 368h1v1h-1zM811 369h1v2h-1zM812 371h1v1h-1zM813 372h1v1h-1zM814 372h1v1h-1zM815 373h1v1h-1zM816 374h1v1h-1zM817 375h1v1h-1zM818 375h1v1h-1zM819 376h1v1h-1zM820 377h1v1h-1zM821 378h1v1h-1zM822 378h1v1h-1zM823 379h1v1h-1zM824 380h1v1h-1zM825 381h1v1h-1zM826 381h1v1h-1zM827 382h1v1h-1zM828 383h15v1h-15zM843 383h1v1h-1zM844 382h9v1h-9zM853 382h1v1h-1zM854 383h2v1h-2zM856 383h1v1h-1zM857 384h5v1h-5zM862 384h1v1h-1zM863 385h9v1h-9zM872 385h1v1h-1zM873 386h4v1h-4zM877 386h1v1h-1zM878 387h1v1h-1zM879 387h1v1h-1zM880 388h1v1h-1zM881 389h1v1h-1zM882 389h1v1h-1zM883 390h1v1h-1zM884 390h1v1h-1zM885 391h1v1h-1zM886 391h1v1h-1zM887 392h1v1h-1zM888 392h1v1h-1zM889 393h1v1h-1zM890 393h1v1h-1zM891 394h3v1h-3zM894 394h1v1h-1zM895 395h4v1h-4zM899 395h1v1h-1zM900 396h9v1h-9zM909 396h1v1h-1zM910 397h3v1h-3zM913 397h1v1h-1zM914 398h3v1h-3zM917 398h1v1h-1zM918 399h2v1h-2zM920 399h1v1h-1zM921 400h3v1h-3zM924 400h1v1h-1zM925 401h3v1h-3zM928 401h1v1h-1zM929 402h3v1h-3zM932 402h1v1h-1zM933 403h1v1h-1zM934 403h1v1h-1zM935 404h2v1h-2zM937 404h1v1h-1zM938 405h2v1h-2zM940 405h1v1h-1zM941 406h2v1h-2zM943 406h1v1h-1zM944 407h2v1h-2zM946 407h1v1h-1zM947 408h1v1h-1zM948 408h1v1h-1zM949 409h1v1h-1zM950 409h1v1h-1zM951 410h1v1h-1zM952 410h1v1h-1zM953 411h1v1h-1zM954 411h1v1h-1zM955 412h1v1h-1zM956 413h2v1h-2zM958 413h1v1h-1zM959 414h1v1h-1zM960 414h1v1h-1zM961 415h2v1h-2zM963 415h1v1h-1zM964 416h1v1h-1zM965 416h1v1h-1zM966 417h1v1h-1zM967 417h1v1h-1zM968 418h1v1h-1zM969 418h1v1h-1zM970 419h1v1h-1zM971 419h1v1h-1zM972 420h1v1h-1zM973 420h1v1h-1zM974 421h1v1h-1zM975 421h1v1h-1zM976 422h1v1h-1zM977 422h1v1h-1zM978 423h1v1h-1zM979 423h1v1h-1zM980 424h1v1h-1zM981 424h1v1h-1zM982 425h1v1h-1zM983 425h1v1h-1zM984 426h1v1h-1zM985 426h1v1h-1zM986 427h1v1h-1zM987 427h1v1h-1zM988 428h1v1h-1zM989 428h1v1h-1zM990 429h1v1h-1zM991 429h1v1h-1zM992 430h1v1h-1zM993 430h1v1h-1zM994 431h1v1h-1zM995 431h1v1h-1zM996 432h1v1h-1zM997 432h1v1h-1zM998 433h2v1h-2zM1000 433h1v1h-1zM1001 434h1v1h-1zM1002 434h1v1h-1zM1003 435h1v1h-1zM1004 435h1v1h-1zM1005 436h1v1h-1zM1006 436h1v1h-1zM1007 437h1v1h-1zM1008 438h1v1h-1zM1009 438h1v1h-1zM1010 439h1v1h-1zM1011 440h1v1h-1zM1012 440h1v1h-1zM1013 441h1v1h-1zM1014 441h1v1h-1zM1015 442h1v1h-1zM1016 442h1v1h-1zM1017 443h1v1h-1zM1018 443h1v1h-1zM1019 444h1v1h-1zM1020 444h1v1h-1zM1021 445h2v1h-2zM1023 445h1v1h-1zM1024 446h3v1h-3zM1027 446h1v1h-1zM1028 447h2v1h-2zM1030 447h1v1h-1zM1031 448h2v1h-2zM1033 448h1v1h-1zM1034 449h2v1h-2zM1036 449h1v1h-1zM1037 450h2v1h-2zM1039 450h1v1h-1zM1040 451h1v1h-1zM1041 451h1v1h-1zM1042 452h2v1h-2zM1044 452h1v1h-1zM1045 453h3v1h-3zM1048 453h1v1h-1zM1049 454h2v1h-2zM1051 454h1v1h-1zM1052 455h1v1h-1zM1053 455h1v1h-1zM1054 456h1v1h-1zM1055 456h1v1h-1zM1056 457h1v1h-1zM1057 457h1v1h-1zM1058 458h1v1h-1zM1059 458h1v1h-1zM1060 459h1v1h-1zM1061 459h1v1h-1zM1062 460h1v1h-1zM1063 460h1v1h-1zM1064 461h1v1h-1zM1065 461h1v1h-1zM1066 462h2v1h-2zM1068 462h1v1h-1zM1069 463h4v1h-4zM1073 463h1v1h-1zM1074 464h3v1h-3zM1077 464h1v1h-1zM1078 465h4v1h-4zM1082 465h1v1h-1zM1083 466h3v1h-3zM1086 466h1v1h-1zM1087 467h2v1h-2zM1089 467h1v1h-1zM1090 468h2v1h-2zM1092 468h1v1h-1zM1093 469h1v1h-1zM1094 469h1v1h-1zM1095 470h1v1h-1zM1096 470h1v1h-1zM1097 471h1v1h-1zM1098 471h1v1h-1zM1099 472h1v1h-1zM1100 473h2v1h-2zM1102 473h1v1h-1zM1103 474h1v1h-1zM1104 474h1v1h-1zM1105 475h2v1h-2zM1107 475h1v1h-1zM1108 476h8v1h-8zM1116 476h1v1h-1zM1117 477h5v1h-5zM1122 477h1v1h-1zM1123 478h4v1h-4zM1127 478h1v1h-1zM1128 479h3v1h-3zM1131 479h1v1h-1zM1132 480h7v1h-7zM1139 480h1v1h-1zM1140 481h17v1h-17zM1157 481h1v1h-1zM1158 482h3v1h-3zM1161 482h1v1h-1zM1162 483h26v1h-26zM1188 483h1v1h-1zM1189 482h3v1h-3zM1192 482h1v1h-1zM1193 481h3v1h-3zM1196 481h1v1h-1zM1197 480h1v1h-1zM1198 480h1v1h-1zM1199 479h2v1h-2zM1201 479h1v1h-1zM1202 478h1v1h-1zM1203 478h1v1h-1zM1204 477h4v1h-4zM1208 477h1v1h-1zM1209 476h5v1h-5zM1214 476h1v1h-1zM1215 475h7v1h-7zM1222 475h1v1h-1zM1223 474h7v1h-7zM1230 474h1v1h-1zM1231 473h6v1h-6zM1237 473h1v1h-1zM1238 472h4v1h-4zM1242 472h1v1h-1zM1243 471h3v1h-3zM1246 471h1v1h-1zM1247 470h3v1h-3zM1250 470h1v1h-1zM1251 469h2v1h-2zM1253 469h1v1h-1zM1254 468h1v1h-1zM1255 467h1v1h-1zM1256 467h1v1h-1zM1257 466h1v1h-1zM1258 466h1v1h-1zM1259 465h1v1h-1zM1260 465h1v1h-1zM1261 464h2v1h-2zM1263 464h1v1h-1zM1264 463h1v1h-1zM1265 463h1v1h-1zM1266 462h2v1h-2zM1268 462h1v1h-1zM1269 461h2v1h-2zM1271 461h1v1h-1zM1272 460h2v1h-2zM1274 460h1v1h-1zM1275 459h2v1h-2z" fill="#3cb371"/><path d="M0 470h4v1h-4zM4 470h1v1h-1zM5 471h3v1h-3zM8 471h1v1h-1zM9 472h3v1h-3zM12 472h1v1h-1zM13 473h4v1h-4zM17 473h1v1h-1zM18 474h3v1h-3zM21 474h1v1h-1zM22 475h1v1h-1zM23 475h1v1h-1zM24 476h1v1h-1zM25 476h1v1h-1zM26 477h3v1h-3zM29 477h1v1h-1zM30 478h7v1h-7zM37 478h1v1h-1zM38 479h7v1h-7zM45 479h1v1h-1zM46 480h3v1h-3zM49 480h1v1h-1zM50 481h11v1h-11zM61 481h1v1h-1zM62 480h1v1h-1zM63 480h1v1h-1zM64 479h2v1h-2zM66 479h1v1h-1zM67 478h2v1h-2zM69 478h1v1h-1zM70 477h5v1h-5zM75 477h1v1h-1zM76 476h5v1h-5zM81 476h1v1h-1zM82 475h6v1h-6zM88 475h1v1h-1zM89 474h16v1h-16zM105 474h1v1h-1zM106 475h17v1h-17zM123 475h1v1h-1zM124 476h8v1h-8zM132 476h1v1h-1zM133 477h3v1h-3zM136 477h1v1h-1zM137 478h2v1h-2zM139 478h1v1h-1zM140 479h1v1h-1zM141 479h1v1h-1zM142 480h1v1h-1zM143 481h1v1h-1zM144 481h1v1h-1zM145 482h1v1h-1zM146 483h1v1h-1zM147 483h1v1h-1zM148 484h4v1h-4zM152 484h1v1h-1zM153 485h9v1h-9zM162 485h1v1h-1zM163 484h9v1h-9zM172 484h1v1h-1zM173 483h4v1h-4zM177 483h1v1h-1zM178 482h3v1h-3zM181 482h1v1h-1zM182 481h1v1h-1zM183 481h1v1h-1zM184 480h1v1h-1zM185 480h1v1h-1zM186 479h1v1h-1zM187 479h1v1h-1zM188 478h12v1h-12zM200 478h1v1h-1zM201 479h21v1h-21zM222 479h1v1h-1zM223 480h2v1h-2zM225 480h1v1h-1zM226 481h15v1h-15zM241 481h1v1h-1zM242 482h7v1h-7zM249 482h1v1h-1zM250 481h3v1h-3zM253 481h1v1h-1zM254 480h1v1h-1zM255 480h1v1h-1zM256 479h1v1h-1zM257 479h1v1h-1zM258 478h1v1h-1zM259 478h1v1h-1zM260 477h4v1h-4zM264 477h1v1h-1zM265 476h6v1h-6zM271 476h1v1h-1zM272 475h11v1h-11zM283 475h1v1h-1zM284 474h1v1h-1zM285 475h1v1h-1zM286 476h1v1h-1zM287 477h1v1h-1zM288 478h1v1h-1zM289 479h1v1h-1zM290 480h1v1h-1zM291 480h1v1h-1zM292 481h1v1h-1zM293 482h1v1h-1zM294 483h1v1h-1zM295 484h1v1h-1zM296 485h1v1h-1zM297 486h1v1h-1zM298 487h1v1h-1zM299 488h1v1h-1zM300 489h1v1h-1zM301 490h1v1h-1zM302 490h1v1h-1zM303 491h1v1h-1zM304 492h1v1h-1zM305 493h1v1h-1zM306 494h1v1h-1zM307 494h1v1h-1zM308 495h1v1h-1zM309 496h1v1h-1zM310 496h1v1h-1zM311 497h1v1h-1zM312 498h1v1h-1zM313 498h1v1h-1zM314 499h1v1h-1zM315 499h1v1h-1zM316 500h1v1h-1zM317 501h1v1h-1zM318 502h1v1h-1zM319 503h1v1h-1zM320 504h1v1h-1zM321 505h1v1h-1zM322 506h1v1h-1zM323 507h1v1h-1zM324 508h1v1h-1zM325 509h1v1h-1zM326 510h1v2h-1zM327 512h1v1h-1zM328 513h1v1h-1zM329 514h1v1h-1zM330 515h1v1h-1zM331 516h1v1h-1zM332 517h2v1h-2zM334 517h1v1h-1zM335 516h5v1h-5zM340 516h1v1h-1zM341 515h1v1h-1zM342 515h1v1h-1zM343 514h2v1h-2zM345 514h1v1h-1zM346 513h1v1h-1zM347 513h1v1h-1zM348 512h1v1h-1zM349 512h1v1h-1zM350 511h1v1h-1zM351 511h1v1h-1zM352 510h1v1h-1zM353 510h1v1h-1zM354 509h1v1h-1zM355 509h1v1h-1zM356 508h1v1h-1zM357 507h1v1h-1zM358 506h1v1h-1zM359 505h1v1h-1zM360 504h1v1h-1zM361 503h1v1h-1zM362 502h1v1h-1zM363 502h1v1h-1zM364 500h1v2h-1zM365 499h1v1h-1zM366 498h1v1h-1zM367 497h1v1h-1zM368 496h1v1h-1zM369 495h1v1h-1zM370 494h1v1h-1zM371 493h1v1h-1zM372 491h1v2h-1zM373 490h1v1h-1zM374 489h1v1h-1zM375 487h1v2h-1zM376 486h1v1h-1zM377 485h1v1h-1zM378 483h1v2h-1zM379 482h1v1h-1zM380 480h1v2h-1zM381 478h1v2h-1zM382 476h1v2h-1zM383 473h1v3h-1zM384 471h1v2h-1zM385 469h1v2h-1zM386 467h1v2h-1zM387 465h1v2h-1zM388 464h1v1h-1zM389 463h1v1h-1zM390 461h1v2h-1zM391 460h1v1h-1zM392 459h1v1h-1zM393 458h1v1h-1zM394 457h1v1h-1zM395 455h1v2h-1zM396 454h1v1h-1zM397 454h1v1h-1zM398 453h1v1h-1zM399 452h1v1h-1zM400 452h1v1h-1zM401 451h1v1h-1zM402 450h1v1h-1zM403 450h1v1h-1zM404 449h1v1h-1zM405 447h1v2h-1zM406 446h1v1h-1zM407 445h1v1h-1zM408 444h1v1h-1zM409 442h1v2h-1zM410 441h1v1h-1zM411 440h1v1h-1zM412 438h1v2h-1zM413 437h1v1h-1zM414 436h1v1h-1zM415 434h1v2h-1zM416 433h1v1h-1zM417 431h1v2h-1zM418 430h1v1h-1zM419 428h1v2h-1zM420 426h1v2h-1zM421 424h1v2h-1zM422 422h1v2h-1zM423 420h1v2h-1zM424 418h1v2h-1zM425 416h1v2h-1zM426 414h1v2h-1zM427 412h1v2h-1zM428 409h1v3h-1zM429 406h1v3h-1zM430 403h1v3h-1zM431 401h1v2h-1zM432 398h1v3h-1zM433 395h1v3h-1zM434 393h1v2h-1zM435 390h1v3h-1zM436 387h1v3h-1zM437 384h1v3h-1zM438 381h1v3h-1zM439 378h1v3h-1zM440 375h1v3h-1zM441 371h1v4h-1zM442 368h1v3h-1zM443 365h1v3h-1zM444 364h1v1h-1zM445 363h1v1h-1zM446 362h1v1h-1zM447 361h1v1h-1zM448 360h1v1h-1zM449 360h1v1h-1zM450 359h1v1h-1zM451 358h1v1h-1zM452 357h1v1h-1zM453 356h1v1h-1zM454 355h1v1h-1zM455 354h1v1h-1zM456 353h1v1h-1zM457 352h1v1h-1zM458 351h1v1h-1zM459 350h1v1h-1zM460 350h1v1h-1zM461 349h1v1h-1zM462 348h1v1h-1zM463 347h1v1h-1zM464 346h1v1h-1zM465 345h1v1h-1zM466 344h1v1h-1zM467 344h1v1h-1zM468 343h1v1h-1zM469 342h2v1h-2zM471 342h1v1h-1zM472 341h2v1h-2zM474 341h1v1h-1zM475 340h1v1h-1zM476 340h1v1h-1zM477 341h1v1h-1zM478 342h1v2h-1zM479 344h1v1h-1zM480 345h1v1h-1zM481 346h1v1h-1zM482 347h1v1h-1zM483 348h1v2h-1zM484 350h1v1h-1zM485 350h1v1h-1zM486 351h1v1h-1zM487 352h1v1h-1zM488 353h1v1h-1zM489 353h1v1h-1zM490 354h1v1h-1zM491 355h1v1h-1zM492 356h9v1h-9zM501 356h1v1h-1zM502 355h1v1h-1zM503 355h1v1h-1zM504 354h2v1h-2zM506 354h1v1h-1zM507 353h1v1h-1zM508 353h1v1h-1zM509 352h4v1h-4zM513 352h1v1h-1zM514 351h10v1h-10zM524 351h1v1h-1zM525 352h2v1h-2zM527 352h1v1h-1zM528 353h3v1h-3zM531 353h1v1h-1zM532 354h7v1h-7zM539 354h1v1h-1zM540 355h1v1h-1zM541 354h1v1h-1zM542 353h1v1h-1zM543 352h1v1h-1zM544 351h1v1h-1zM545 351h1v1h-1zM546 350h1v1h-1zM547 349h1v1h-1zM548 348h1v1h-1zM549 348h1v1h-1zM550 347h1v1h-1zM551 347h1v1h-1zM552 346h1v1h-1zM553 346h1v1h-1zM554 345h1v1h-1zM555 345h1v1h-1zM556 344h1v1h-1zM557 343h1v1h-1zM558 342h1v1h-1zM559 341h1v1h-1zM560 340h1v1h-1zM561 340h1v1h-1zM562 339h1v1h-1zM563 338h1v1h-1zM564 336h1v2h-1zM565 335h1v1h-1zM566 334h1v1h-1zM567 333h1v1h-1zM568 331h1v2h-1zM569 330h1v1h-1zM570 329h1v1h-1zM571 327h1v2h-1zM572 326h2v1h-2zM574 326h1v1h-1zM575 325h1v1h-1zM576 325h1v1h-1zM577 324h2v1h-2zM579 324h1v1h-1zM580 323h1v1h-1zM581 322h1v1h-1zM582 321h1v1h-1zM583 320h1v1h-1zM584 318h1v2h-1zM585 317h1v1h-1zM586 316h1v1h-1zM587 315h1v1h-1zM588 313h1v2h-1zM589 311h1v2h-1zM590 310h1v1h-1zM591 308h1v2h-1zM592 306h1v2h-1zM593 304h1v2h-1zM594 303h1v1h-1zM595 301h1v2h-1zM596 299h1v2h-1zM597 298h1v1h-1zM598 297h1v1h-1zM599 295h1v2h-1zM600 294h1v1h-1zM601 292h1v2h-1zM602 291h1v1h-1zM603 290h1v1h-1zM604 288h1v2h-1zM605 286h1v2h-1zM606 284h1v2h-1zM607 282h1v2h-1zM608 281h1v1h-1zM609 279h1v2h-1zM610 277h1v2h-1zM611 275h1v2h-1zM612 273h1v2h-1zM613 270h1v3h-1zM614 268h1v2h-1zM615 265h1v3h-1zM616 263h1v2h-1zM617 260h1v3h-1zM618 258h1v2h-1zM619 255h1v3h-1zM620 252h1v3h-1zM621 249h1v3h-1zM622 246h1v3h-1zM623 243h1v3h-1zM624 240h1v3h-1zM625 236h1v4h-1zM626 233h1v3h-1zM627 230h1v3h-1zM628 228h1v2h-1zM629 226h1v2h-1zM630 224h1v2h-1zM631 222h1v2h-1zM632 220h1v2h-1zM633 218h1v2h-1zM634 216h1v2h-1zM635 214h1v2h-1zM636 213h1v1h-1zM637 212h1v1h-1zM638 211h1v1h-1zM639 210h1v1h-1zM640 209h1v1h-1zM641 209h1v1h-1zM642 208h1v1h-1zM643 207h1v1h-1zM644 206h1v1h-1zM645 204h1v2h-1zM646 203h1v1h-1zM647 202h1v1h-1zM648 201h1v1h-1zM649 200h1v1h-1zM650 199h1v1h-1zM651 197h1v2h-1zM652 196h1v4h-1zM653 200h1v3h-1zM654 203h1v3h-1zM655 206h1v3h-1zM656 209h1v4h-1zM657 213h1v3h-1zM658 216h1v3h-1zM659 219h1v3h-1zM660 222h1v2h-1zM661 224h1v3h-1zM662 227h1v2h-1zM663 229h1v2h-1zM664 231h1v3h-1zM665 234h1v2h-1zM666 236h1v2h-1zM667 238h1v2h-1zM668 240h1v8h-1zM669 248h1v7h-1zM670 255h1v7h-1zM671 262h1v7h-1zM672 269h1v7h-1zM673 276h1v8h-1zM674 284h1v7h-1zM675 291h1v7h-1zM676 298h1v6h-1zM677 304h1v6h-1zM678 310h1v6h-1zM679 316h1v6h-1zM680 322h1v5h-1zM681 327h1v6h-1zM682 333h1v6h-1zM683 339h1v6h-1zM684 345h1v4h-1zM685 349h1v5h-1zM686 354h1v4h-1zM687 358h1v5h-1zM688 363h1v5h-1zM689 368h1v4h-1zM690 372h1v5h-1zM691 377h1v4h-1zM692 381h1v3h-1zM693 384h1v3h-1zM694 387h1v3h-1zM695 390h1v3h-1zM696 393h1v3h-1zM697 396h1v3h-1zM698 399h1v3h-1zM699 402h1v3h-1zM700 405h1v4h-1zM701 409h1v4h-1zM702 413h1v4h-1zM703 417h1v5h-1zM704 422h1v4h-1zM705 426h1v4h-1zM706 430h1v4h-1zM707 434h1v5h-1zM708 439h1v3h-1zM709 442h1v4h-1zM710 446h1v3h-1zM711 449h1v4h-1zM712 453h1v4h-1zM713 457h1v3h-1zM714 460h1v4h-1zM715 464h1v4h-1zM716 468h1v1h-1zM717 469h1v2h-1zM718 471h1v2h-1zM719 473h1v2h-1zM720 475h1v1h-1zM721 476h1v2h-1zM722 478h1v2h-1zM723 480h1v1h-1zM724 481h1v2h-1zM725 483h1v2h-1zM726 485h1v2h-1zM727 487h1v1h-1zM728 488h1v2h-1zM729 490h1v2h-1zM730 492h1v1h-1zM731 493h1v2h-1zM732 495h1v1h-1zM733 496h1v2h-1zM734 498h1v1h-1zM735 499h1v1h-1zM736 500h1v1h-1zM737 501h1v2h-1zM738 503h1v1h-1zM739 504h1v1h-1zM740 505h1v1h-1zM741 506h1v2h-1zM742 508h1v1h-1zM743 509h1v1h-1zM744 510h1v2h-1zM745 512h1v1h-1zM746 513h1v2h-1zM747 515h1v1h-1zM748 516h1v1h-1zM749 517h1v1h-1zM750 518h1v2h-1zM751 520h1v1h-1zM752 521h1v1h-1zM753 522h1v2h-1zM754 524h1v1h-1zM755 525h1v1h-1zM756 526h1v1h-1zM757 527h1v1h-1zM758 527h1v1h-1zM759 528h1v1h-1zM760 529h1v1h-1zM761 530h1v1h-1zM762 530h1v1h-1zM763 531h1v1h-1zM764 532h3v1h-3zM767 532h1v1h-1zM768 533h3v1h-3zM771 533h1v1h-1zM772 534h1v1h-1zM773 533h1v1h-1zM774 532h1v1h-1zM775 532h1v1h-1zM776 531h1v1h-1zM777 531h1v1h-1zM778 530h1v1h-1zM779 530h1v1h-1zM780 528h1v2h-1zM781 526h1v2h-1zM782 524h1v2h-1zM783 522h1v2h-1zM784 520h1v2h-1zM785 518h1v2h-1zM786 516h1v2h-1zM787 514h1v2h-1zM788 513h1v1h-1zM789 511h1v2h-1zM790 510h1v1h-1zM791 509h1v1h-1zM792 508h1v1h-1zM793 506h1v2h-1zM794 505h1v1h-1zM795 504h1v1h-1zM796 502h1v2h-1zM797 500h1v2h-1zM798 498h1v2h-1zM799 496h1v2h-1zM800 494h1v2h-1zM801 492h1v2h-1zM802 490h1v2h-1zM803 488h1v2h-1zM804 483h1v5h-1zM805 479h1v4h-1zM806 474h1v5h-1zM807 469h1v5h-1zM808 464h1v5h-1zM809 460h1v4h-1zM810 455h1v5h-1zM811 450h1v5h-1zM812 449h1v1h-1zM813 448h1v1h-1zM814 447h1v1h-1zM815 446h1v1h-1zM816 445h1v1h-1zM817 444h1v1h-1zM818 443h1v1h-1zM819 442h1v1h-1zM820 440h1v2h-1zM821 437h1v3h-1zM822 435h1v2h-1zM823 432h1v3h-1zM824 430h1v2h-1zM825 427h1v3h-1zM826 425h1v2h-1zM827 422h1v3h-1zM828 421h16v1h-16zM844 421h1v1h-1zM845 420h16v1h-16zM861 420h1v1h-1zM862 421h2v1h-2zM864 421h1v1h-1zM865 422h1v1h-1zM866 422h1v1h-1zM867 423h1v1h-1zM868 423h1v1h-1zM869 424h1v1h-1zM870 424h1v1h-1zM871 425h2v1h-2zM873 425h1v1h-1zM874 426h1v1h-1zM875 426h1v1h-1zM876 427h2v1h-2zM878 427h1v1h-1zM879 428h2v1h-2zM881 428h1v1h-1zM882 429h1v1h-1zM883 429h1v1h-1zM884 430h1v1h-1zM885 430h1v1h-1zM886 431h2v1h-2zM888 431h1v1h-1zM889 432h1v1h-1zM890 432h1v1h-1zM891 433h4v1h-4zM895 433h1v1h-1zM896 432h3v1h-3zM899 432h1v1h-1zM900 431h2v1h-2zM902 431h1v1h-1zM903 432h5v1h-5zM908 432h1v1h-1zM909 433h1v1h-1zM910 433h1v1h-1zM911 434h1v1h-1zM912 435h1v1h-1zM913 435h1v1h-1zM914 436h1v1h-1zM915 437h1v1h-1zM916 438h1v1h-1zM917 438h1v1h-1zM918 439h1v1h-1zM919 440h1v1h-1zM920 441h1v1h-1zM921 441h1v1h-1zM922 442h1v1h-1zM923 443h1v1h-1zM924 444h1v1h-1zM925 444h1v1h-1zM926 445h1v1h-1zM927 445h1v1h-1zM928 446h1v1h-1zM929 446h1v1h-1zM930 447h1v1h-1zM931 447h1v1h-1zM932 448h1v1h-1zM933 448h1v1h-1zM934 449h2v1h-2zM936 449h1v1h-1zM937 450h1v1h-1zM938 450h1v1h-1zM939 451h2v1h-2zM941 451h1v1h-1zM942 452h3v1h-3zM945 452h1v1h-1zM946 453h2v1h-2zM948 453h1v2h-1zM949 455h1v1h-1zM950 456h1v1h-1zM951 457h1v2h-1zM952 459h1v1h-1zM953 460h1v2h-1zM954 462h1v1h-1zM955 463h1v1h-1zM956 464h1v1h-1zM957 465h1v1h-1zM958 466h1v2h-1zM959 468h1v1h-1zM960 469h1v1h-1zM961 470h1v1h-1zM962 471h1v1h-1zM963 472h1v1h-1zM964 473h1v1h-1zM965 474h1v1h-1zM966 474h1v1h-1zM967 475h2v1h-2zM969 475h1v1h-1zM970 476h1v1h-1zM971 476h1v1h-1zM972 477h1v1h-1zM973 477h1v1h-1zM974 478h1v1h-1zM975 479h1v1h-1zM976 480h1v1h-1zM977 480h1v1h-1zM978 481h1v1h-1zM979 482h1v1h-1zM980 482h1v1h-1zM981 483h1v1h-1zM982 484h1v1h-1zM983 484h1v1h-1zM984 485h1v1h-1zM985 485h1v1h-1zM986 486h1v1h-1zM987 486h1v1h-1zM988 487h1v1h-1zM989 487h1v1h-1zM990 488h1v1h-1zM991 488h1v1h-1zM992 489h1v1h-1zM993 489h1v1h-1zM994 490h1v1h-1zM995 491h7v1h-7zM1002 491h1v1h-1zM1003 490h1v1h-1zM1004 490h1v1h-1zM1005 491h2v1h-2zM1007 491h1v1h-1zM1008 492h2v1h-2zM1010 492h1v1h-1zM1011 493h2v1h-2zM1013 493h1v1h-1zM1014 494h4v1h-4zM1018 494h1v1h-1zM1019 495h2v1h-2zM1021 495h1v1h-1zM1022 496h2v1h-2zM1024 496h1v1h-1zM1025 497h1v1h-1zM1026 497h1v1h-1zM1027 498h1v1h-1zM1028 498h1v1h-1zM1029 499h1v1h-1zM1030 499h1v1h-1zM1031 500h1v1h-1zM1032 500h1v1h-1zM1033 501h2v1h-2zM1035 501h1v1h-1zM1036 502h1v1h-1zM1037 502h1v1h-1zM1038 503h1v1h-1zM1039 504h1v1h-1zM1040 504h1v1h-1zM1041 505h1v1h-1zM1042 505h1v1h-1zM1043 506h1v1h-1zM1044 506h1v1h-1zM1045 507h3v1h-3zM1048 507h1v1h-1zM1049 508h2v1h-2zM1051 508h1v1h-1zM1052 509h1v1h-1zM1053 508h1v1h-1zM1054 507h1v1h-1zM1055 507h1v1h-1zM1056 506h1v1h-1zM1057 506h1v1h-1zM1058 505h1v1h-1zM1059 505h1v1h-1zM1060 504h1v1h-1zM1061 503h1v1h-1zM1062 503h1v1h-1zM1063 502h1v1h-1zM1064 501h1v1h-1zM1065 501h1v1h-1zM1066 500h1v1h-1zM1067 499h3v1h-3zM1070 499h1v1h-1zM1071 498h18v1h-18zM1089 498h1v1h-1zM1090 497h2v1h-2zM1092 497h1v1h-1zM1093 498h1v1h-1zM1094 499h1v1h-1zM1095 500h1v2h-1zM1096 502h1v1h-1zM1097 503h1v1h-1zM1098 504h1v1h-1zM1099 505h1v1h-1zM1100 506h5v1h-5zM1105 506h1v1h-1zM1106 505h3v1h-3zM1109 505h1v1h-1zM1110 506h6v1h-6zM1116 506h1v1h-1zM1117 507h3v1h-3zM1120 507h1v1h-1zM1121 508h4v1h-4zM1125 508h1v1h-1zM1126 509h8v1h-8zM1134 509h1v1h-1zM1135 510h23v1h-23zM1158 510h1v1h-1zM1159 509h3v1h-3zM1162 509h1v1h-1zM1163 508h19v1h-19zM1182 508h1v1h-1zM1183 509h5v1h-5zM1188 509h1v1h-1zM1189 510h1v1h-1zM1190 510h1v1h-1zM1191 511h1v1h-1zM1192 511h1v1h-1zM1193 512h1v1h-1zM1194 512h1v1h-1zM1195 513h1v1h-1zM1196 513h1v1h-1zM1197 514h1v1h-1zM1198 515h1v1h-1zM1199 515h1v1h-1zM1200 516h1v1h-1zM1201 517h1v1h-1zM1202 517h1v1h-1zM1203 518h1v1h-1zM1204 518h1v1h-1zM1205 519h30v1h-30zM1235 519h1v1h-1zM1236 520h16v1h-16zM1252 520h1v1h-1zM1253 519h1v1h-1zM1254 518h1v1h-1zM1255 517h1v1h-1zM1256 516h1v1h-1zM1257 515h1v1h-1zM1258 514h1v1h-1zM1259 512h1v2h-1zM1260 511h2v1h-2zM1262 511h1v1h-1zM1263 510h1v1h-1zM1264 510h1v1h-1zM1265 509h1v1h-1zM1266 509h1v1h-1zM1267 508h1v1h-1zM1268 508h1v1h-1zM1269 507h2v1h-2zM1271 507h1v1h-1zM1272 506h2v1h-2zM1274 506h1v1h-1zM1275 505h2v1h-2z" fill="#3cb371"/><rect x="0" y="375" width="1614" height="2" fill="#f00"/><rect x="0" y="404" width="1614" height="2" fill="#f00"/><rect x="0" y="447" width="1614" height="2" fill="#ffa500"/><rect x="0" y="475" width="1614" height="2" fill="#00f"/><rect x="0" y="501" width="1614" height="2" fill="#00f"/><rect x="1608" y="373" width="6" height="6" fill="#f00"/><rect x="1610" y="375" width="2" height="2" fill="#fff"/><rect x="1608" y="402" width="6" height="6" fill="#f00"/><rect x="1610" y="404" width="2" height="2" fill="#fff"/><rect x="1608" y="445" width="6" height="6" fill="#ffa500"/><rect x="1610" y="447" width="2" height="2" fill="#fff"/><rect x="1608" y="473" width="6" height="6" fill="#00f"/><rect x="1610" y="475" width="2" height="2" fill="#fff"/><rect x="1608" y="499" width="6" height="6" fill="#00f"/><rect x="1610" y="501" width="2" height="2" fill="#fff"/></g><g shape-rendering="geometricPrecision"><line x1="1107.5" y1="524" x2="1303" y2="432.7" stroke="#e8111b" stroke-width="2.9"/><polygon points="1297.6,426.1 1317.3,426.6 1305.3,442.1" fill="#e8111b"/></g><rect x="3" y="619" width="3" height="36" fill="#0f0"/><rect x="11" y="619" width="3" height="34" fill="#0f0"/><rect x="19" y="619" width="3" height="33" fill="#0f0"/><rect x="27" y="619" width="3" height="33" fill="#0f0"/><rect x="35" y="619" width="3" height="30" fill="#0f0"/><rect x="43" y="619" width="3" height="28" fill="#0f0"/><rect x="51" y="619" width="3" height="27" fill="#0f0"/><rect x="59" y="619" width="3" height="26" fill="#0f0"/><rect x="67" y="619" width="3" height="24" fill="#0f0"/><rect x="75" y="619" width="3" height="22" fill="#0f0"/><rect x="83" y="619" width="3" height="18" fill="#0f0"/><rect x="91" y="619" width="3" height="17" fill="#0f0"/><rect x="99" y="619" width="3" height="17" fill="#0f0"/><rect x="107" y="619" width="3" height="15" fill="#0f0"/><rect x="115" y="619" width="3" height="14" fill="#0f0"/><rect x="123" y="619" width="3" height="11" fill="#0f0"/><rect x="131" y="619" width="3" height="10" fill="#0f0"/><rect x="139" y="619" width="3" height="7" fill="#0f0"/><rect x="147" y="619" width="3" height="3" fill="#0f0"/><rect x="155" y="619" width="3" height="1" fill="#0f0"/><rect x="163" y="617" width="3" height="2" fill="#0f0"/><rect x="171" y="616" width="3" height="3" fill="#0f0"/><rect x="179" y="617" width="3" height="2" fill="#0f0"/><rect x="187" y="619" width="3" height="1" fill="#0f0"/><rect x="195" y="619" width="3" height="1" fill="#0f0"/><rect x="203" y="619" width="3" height="4" fill="#0f0"/><rect x="211" y="619" width="3" height="6" fill="#0f0"/><rect x="219" y="619" width="3" height="8" fill="#0f0"/><rect x="227" y="619" width="3" height="10" fill="#0f0"/><rect x="235" y="619" width="3" height="8" fill="#0f0"/><rect x="243" y="619" width="3" height="3" fill="#0f0"/><rect x="251" y="619" width="3" height="2" fill="#0f0"/><rect x="259" y="618" width="3" height="1" fill="#0f0"/><rect x="267" y="618" width="3" height="1" fill="#0f0"/><rect x="275" y="618" width="3" height="1" fill="#0f0"/><rect x="283" y="617" width="3" height="2" fill="#0f0"/><rect x="291" y="611" width="3" height="8" fill="#0f0"/><rect x="299" y="605" width="3" height="14" fill="#0f0"/><rect x="307" y="600" width="3" height="19" fill="#0f0"/><rect x="315" y="597" width="3" height="22" fill="#0f0"/><rect x="323" y="591" width="3" height="28" fill="#0f0"/><rect x="331" y="585" width="3" height="34" fill="#0f0"/><rect x="339" y="585" width="3" height="34" fill="#0f0"/><rect x="347" y="585" width="3" height="34" fill="#0f0"/><rect x="355" y="584" width="3" height="35" fill="#0f0"/><rect x="363" y="584" width="3" height="35" fill="#0f0"/><rect x="371" y="583" width="3" height="36" fill="#0f0"/><rect x="379" y="582" width="3" height="37" fill="#0f0"/><rect x="387" y="583" width="3" height="36" fill="#0f0"/><rect x="395" y="581" width="3" height="38" fill="#0f0"/><rect x="403" y="580" width="3" height="39" fill="#0f0"/><rect x="411" y="581" width="3" height="38" fill="#0f0"/><rect x="419" y="581" width="3" height="38" fill="#0f0"/><rect x="427" y="582" width="3" height="37" fill="#0f0"/><rect x="435" y="584" width="3" height="35" fill="#0f0"/><rect x="443" y="582" width="3" height="37" fill="#0f0"/><rect x="451" y="582" width="3" height="37" fill="#0f0"/><rect x="459" y="583" width="3" height="36" fill="#0f0"/><rect x="467" y="586" width="3" height="33" fill="#0f0"/><rect x="475" y="583" width="3" height="36" fill="#0f0"/><rect x="483" y="579" width="3" height="40" fill="#0f0"/><rect x="491" y="576" width="3" height="43" fill="#0f0"/><rect x="499" y="574" width="3" height="45" fill="#0f0"/><rect x="507" y="572" width="3" height="47" fill="#0f0"/><rect x="515" y="570" width="3" height="49" fill="#0f0"/><rect x="523" y="566" width="3" height="53" fill="#0f0"/><rect x="531" y="562" width="3" height="57" fill="#0f0"/><rect x="539" y="559" width="3" height="60" fill="#0f0"/><rect x="547" y="558" width="3" height="61" fill="#0f0"/><rect x="555" y="558" width="3" height="61" fill="#0f0"/><rect x="563" y="563" width="3" height="56" fill="#0f0"/><rect x="571" y="564" width="3" height="55" fill="#0f0"/><rect x="579" y="562" width="3" height="57" fill="#0f0"/><rect x="587" y="559" width="3" height="60" fill="#0f0"/><rect x="595" y="560" width="3" height="59" fill="#0f0"/><rect x="603" y="561" width="3" height="58" fill="#0f0"/><rect x="611" y="563" width="3" height="56" fill="#0f0"/><rect x="619" y="565" width="3" height="54" fill="#0f0"/><rect x="627" y="565" width="3" height="54" fill="#0f0"/><rect x="635" y="572" width="3" height="47" fill="#0f0"/><rect x="643" y="577" width="3" height="42" fill="#0f0"/><rect x="651" y="582" width="3" height="37" fill="#0f0"/><rect x="659" y="597" width="3" height="22" fill="#0f0"/><rect x="667" y="609" width="3" height="10" fill="#0f0"/><rect x="675" y="619" width="3" height="11" fill="#0f0"/><rect x="683" y="619" width="3" height="27" fill="#0f0"/><rect x="691" y="619" width="3" height="39" fill="#0f0"/><rect x="699" y="619" width="3" height="44" fill="#0f0"/><rect x="707" y="619" width="3" height="54" fill="#0f0"/><rect x="715" y="619" width="3" height="60" fill="#0f0"/><rect x="723" y="619" width="3" height="59" fill="#0f0"/><rect x="731" y="619" width="3" height="58" fill="#0f0"/><rect x="739" y="619" width="3" height="57" fill="#0f0"/><rect x="747" y="619" width="3" height="58" fill="#0f0"/><rect x="755" y="619" width="3" height="59" fill="#0f0"/><rect x="763" y="619" width="3" height="59" fill="#0f0"/><rect x="771" y="619" width="3" height="57" fill="#0f0"/><rect x="779" y="619" width="3" height="55" fill="#0f0"/><rect x="787" y="619" width="3" height="53" fill="#0f0"/><rect x="795" y="619" width="3" height="51" fill="#0f0"/><rect x="803" y="619" width="3" height="51" fill="#0f0"/><rect x="811" y="619" width="3" height="47" fill="#0f0"/><rect x="819" y="619" width="3" height="45" fill="#0f0"/><rect x="827" y="619" width="3" height="43" fill="#0f0"/><rect x="835" y="619" width="3" height="41" fill="#0f0"/><rect x="843" y="619" width="3" height="38" fill="#0f0"/><rect x="851" y="619" width="3" height="35" fill="#0f0"/><rect x="859" y="619" width="3" height="34" fill="#0f0"/><rect x="867" y="619" width="3" height="36" fill="#0f0"/><rect x="875" y="619" width="3" height="36" fill="#0f0"/><rect x="883" y="619" width="3" height="37" fill="#0f0"/><rect x="891" y="619" width="3" height="36" fill="#0f0"/><rect x="899" y="619" width="3" height="33" fill="#0f0"/><rect x="907" y="619" width="3" height="30" fill="#0f0"/><rect x="915" y="619" width="3" height="31" fill="#0f0"/><rect x="923" y="619" width="3" height="32" fill="#0f0"/><rect x="931" y="619" width="3" height="31" fill="#0f0"/><rect x="939" y="619" width="3" height="30" fill="#0f0"/><rect x="947" y="619" width="3" height="29" fill="#0f0"/><rect x="955" y="619" width="3" height="30" fill="#0f0"/><rect x="963" y="619" width="3" height="33" fill="#0f0"/><rect x="971" y="619" width="3" height="33" fill="#0f0"/><rect x="979" y="619" width="3" height="33" fill="#0f0"/><rect x="987" y="619" width="3" height="30" fill="#0f0"/><rect x="995" y="619" width="3" height="30" fill="#0f0"/><rect x="1003" y="619" width="3" height="30" fill="#0f0"/><rect x="1011" y="619" width="3" height="30" fill="#0f0"/><rect x="1019" y="619" width="3" height="30" fill="#0f0"/><rect x="1027" y="619" width="3" height="30" fill="#0f0"/><rect x="1035" y="619" width="3" height="29" fill="#0f0"/><rect x="1043" y="619" width="3" height="29" fill="#0f0"/><rect x="1051" y="619" width="3" height="28" fill="#0f0"/><rect x="1059" y="619" width="3" height="26" fill="#0f0"/><rect x="1067" y="619" width="3" height="24" fill="#0f0"/><rect x="1075" y="619" width="3" height="23" fill="#0f0"/><rect x="1083" y="619" width="3" height="22" fill="#0f0"/><rect x="1091" y="619" width="3" height="21" fill="#0f0"/><rect x="1099" y="619" width="3" height="24" fill="#0f0"/><rect x="1107" y="619" width="3" height="23" fill="#0f0"/><rect x="1115" y="619" width="3" height="22" fill="#0f0"/><rect x="1123" y="619" width="3" height="22" fill="#0f0"/><rect x="1131" y="619" width="3" height="21" fill="#0f0"/><rect x="1139" y="619" width="3" height="19" fill="#0f0"/><rect x="1147" y="619" width="3" height="16" fill="#0f0"/><rect x="1155" y="619" width="3" height="15" fill="#0f0"/><rect x="1163" y="619" width="3" height="15" fill="#0f0"/><rect x="1171" y="619" width="3" height="14" fill="#0f0"/><rect x="1179" y="619" width="3" height="12" fill="#0f0"/><rect x="1187" y="619" width="3" height="9" fill="#0f0"/><rect x="1195" y="619" width="3" height="5" fill="#0f0"/><rect x="1203" y="619" width="3" height="1" fill="#0f0"/><rect x="1211" y="617" width="3" height="2" fill="#0f0"/><rect x="1219" y="616" width="3" height="3" fill="#0f0"/><rect x="1227" y="616" width="3" height="3" fill="#0f0"/><rect x="1235" y="615" width="3" height="4" fill="#0f0"/><rect x="1243" y="614" width="3" height="5" fill="#0f0"/><rect x="1251" y="613" width="3" height="6" fill="#0f0"/><rect x="1259" y="611" width="3" height="8" fill="#0f0"/><rect x="1267" y="611" width="3" height="8" fill="#0f0"/><rect x="1275" y="610" width="3" height="9" fill="#0f0"/><polyline points="0.0,658.7 12.7,657.5 28.5,655.3 44.3,652.1 60.8,649.4 76.0,647.7 92.5,643.3 108.9,640.4 124.1,636.3 140.6,633.4 155.8,628.5 172.3,624.3 188.8,621.4 205.2,619.2 212.0,619.8 220.7,620.4 228.9,621.3 237.1,622.6 244.7,622.7 275.0,622.7 276.4,621.9 284.0,621.4 292.2,620.7 296.7,618.5 300.5,617.2 308.5,614.1 316.5,612.6 324.5,608.0 332.5,605.2 340.5,601.4 348.5,597.6 356.5,594.4 364.5,591.3 372.5,588.5 380.5,586.2 388.5,585.6 396.5,584.6 404.5,583.4 412.5,582.8 420.0,582.0 460.0,582.0 461.6,582.8 492.0,582.8 493.3,582.0 500.5,581.8 508.5,580.5 516.5,579.6 524.5,577.3 532.5,574.5 540.5,571.3 548.5,568.2 556.5,566.3 564.5,565.0 572.5,564.3 580.5,563.4 588.5,561.1 596.5,560.9 604.5,560.9 612.5,561.2 620.5,562.4 628.5,563.7 636.5,564.4 644.5,565.3 652.5,567.2 660.5,572.3 668.5,578.0 676.5,584.3 684.5,594.4 692.5,603.9 700.5,614.6 708.5,626.3 716.5,637.0 724.5,647.0 732.5,656.5 740.5,663.8 748.5,669.5 756.5,672.6 764.5,675.6 772.5,675.8 780.5,675.8 788.5,675.6 796.5,674.8 804.5,674.3 812.5,673.0 820.5,671.0 828.5,669.2 836.5,667.3 844.5,665.3 852.5,663.4 860.5,661.5 868.5,659.1 876.5,658.1 884.5,655.9 892.5,655.2 900.5,654.0 908.5,653.3 916.5,652.4 924.5,651.7 932.5,651.7 940.5,651.1 948.5,650.5 956.5,649.8 964.5,649.5 968.2,648.7 972.5,649.8 980.5,649.8 988.5,649.8 996.5,649.8 1004.5,649.8 1012.5,649.8 1020.5,649.9 1028.5,649.9 1036.5,649.4 1044.5,648.8 1052.5,648.4 1060.5,647.4 1068.5,646.9 1076.5,646.4 1084.5,645.4 1092.5,644.4 1100.5,643.4 1108.5,642.4 1116.5,641.9 1124.5,641.7 1132.5,640.6 1140.5,639.9 1148.5,639.2 1156.5,638.3 1164.5,638.0 1172.5,637.6 1180.5,635.4 1188.5,634.5 1196.5,632.3 1204.5,630.0 1212.5,628.1 1220.5,626.2 1228.5,624.3 1236.5,622.2 1244.5,620.3 1252.5,618.4 1260.5,616.4 1268.5,615.1 1276.5,614.8" fill="none" stroke="#f00" stroke-width="2" stroke-linejoin="round"/><line x1="1" y1="712.5" x2="1613" y2="712.5" stroke="#000" stroke-width="1" stroke-dasharray="3 3"/><line x1="1" y1="747.5" x2="1613" y2="747.5" stroke="#000" stroke-width="1" stroke-dasharray="3 3"/><line x1="1" y1="789.5" x2="1613" y2="789.5" stroke="#000" stroke-width="1" stroke-dasharray="3 3"/><polyline points="0,767.8 4.5,767.8 12.5,767.8 20.5,766.9 28.5,769.7 36.5,760.0 44.5,758.7 52.5,762.8 60.5,762.5 68.5,759.3 76.5,754.3 84.5,747.9 92.5,754.3 100.5,760.0 108.5,751.1 116.5,750.5 124.5,747.9 132.5,747.7 140.5,741.0 148.5,735.9 156.5,739.7 164.5,741.0 172.5,740.0 180.5,753.0 188.5,753.0 196.5,754.3 204.5,758.7 212.5,759.0 220.5,759.0 228.5,762.9 236.5,746.7 244.5,737.8 252.5,741.9 260.5,742.0 268.5,745.7 276.5,746.0 284.5,743.8 292.5,726.1 300.5,724.1 308.5,722.6 316.5,722.0 324.5,717.3 332.5,715.0 340.5,729.6 348.5,730.8 356.5,729.2 364.5,727.0 372.5,725.4 380.5,725.4 388.5,730.0 396.5,723.0 404.5,723.0 412.5,729.2 420.5,726.0 428.5,731.8 436.5,731.8 444.5,726.8 452.5,727.0 460.5,732.7 468.5,734.0 476.5,724.9 484.5,719.0 492.5,719.8 500.5,719.8 508.5,719.0 516.5,716.3 524.5,713.4 532.5,711.2 540.5,709.7 548.5,715.3 556.5,719.2 564.5,735.3 572.5,730.0 580.5,721.1 588.5,721.1 596.5,726.8 604.5,727.4 612.5,728.0 620.5,728.0 628.5,725.1 636.5,742.9 644.5,742.9 652.5,742.9 660.5,764.8 668.5,764.0 676.5,774.8 684.5,774.8 692.5,773.7 700.5,766.9 708.5,772.0 716.5,772.0 724.5,760.0 732.5,760.0 740.5,761.2 748.5,764.8 756.5,764.8 764.5,764.0 772.5,763.8 780.5,760.2 788.5,760.2 796.5,761.2 804.5,764.0 812.5,758.1 820.5,759.0 828.5,759.0 836.5,759.0 844.5,757.7 852.5,757.1 860.5,759.0 868.5,764.8 876.5,764.8 884.5,765.4 892.5,765.7 900.5,753.0 908.5,754.9 916.5,762.8 924.5,762.8 932.5,760.6 940.5,760.0 948.5,760.0 956.5,768.0 964.5,768.0 972.5,762.8 980.5,763.8 988.5,764.4 996.5,764.8 1004.5,755.5 1012.5,764.0 1020.5,761.5 1028.5,761.1 1036.5,762.4 1044.5,762.8 1052.5,759.4 1060.5,759.0 1068.5,757.1 1076.5,757.5 1084.5,758.0 1092.5,758.0 1100.5,771.2 1108.5,759.4 1116.5,755.8 1124.5,758.1 1132.5,758.1 1140.5,754.9 1148.5,748.2 1156.5,753.9 1164.5,755.2 1172.5,753.9 1180.5,749.8 1188.5,743.1 1196.5,737.2 1204.5,733.8 1212.5,741.6 1220.5,744.8 1228.5,743.5 1236.5,743.1 1244.5,740.1 1252.5,739.7 1260.5,737.8 1268.5,740.0 1276.5,740.0" fill="none" stroke="#1e90ff" stroke-width="2" stroke-linejoin="round"/></svg>
<div class="t" style="left:900.5px;top:4px;font-size:10px;line-height:11px;color:#404040;letter-spacing:-0.3px;-webkit-text-stroke:0;">M1</div>
<div class="t" style="left:928.3px;top:4px;font-size:10px;line-height:11px;color:#404040;letter-spacing:-0.3px;-webkit-text-stroke:0;">M5</div>
<div class="t" style="left:954.6px;top:4px;font-size:10px;line-height:11px;color:#404040;letter-spacing:-0.3px;-webkit-text-stroke:0;">M15</div>
<div class="t" style="left:982.5px;top:4px;font-size:10px;line-height:11px;color:#404040;letter-spacing:-0.3px;-webkit-text-stroke:0;">M30</div>
<div class="t" style="left:1013.7px;top:4px;font-size:10px;line-height:11px;color:#404040;letter-spacing:-0.3px;-webkit-text-stroke:0;">H1</div>
<div class="t" style="left:1041px;top:4px;font-size:10px;line-height:11px;color:#404040;letter-spacing:-0.3px;-webkit-text-stroke:0;">H4</div>
<div class="t" style="left:1069.6px;top:4px;font-size:10px;line-height:11px;color:#404040;letter-spacing:-0.3px;-webkit-text-stroke:0;">D1</div>
<div class="t" style="left:1097.2px;top:4px;font-size:10px;line-height:11px;color:#404040;letter-spacing:-0.3px;-webkit-text-stroke:0;">W1</div>
<div class="t" style="left:1123.6px;top:4px;font-size:10px;line-height:11px;color:#404040;letter-spacing:-0.3px;-webkit-text-stroke:0;">MN</div>
<div class="t" style="left:799.3px;top:3px;font-size:12.5px;line-height:13.5px;color:#555;letter-spacing:-0.2px;-webkit-text-stroke:0;font-weight:bold;">A</div>
<div class="t" style="left:828.6px;top:4px;font-size:11px;line-height:12px;color:#555;letter-spacing:-0.2px;-webkit-text-stroke:0;font-weight:bold;">T</div>
<div class="t" style="left:1643.5px;top:-0.5px;font-size:12px;line-height:13px;color:#fff;letter-spacing:-0.2px;-webkit-text-stroke:0;">1</div>
<div class="t" style="left:1620px;top:46px;letter-spacing:-0.45px;color:#000;">1.00490</div>
<div class="t" style="left:1620px;top:79px;letter-spacing:-0.45px;color:#000;">1.00110</div>
<div class="t" style="left:1620px;top:112px;letter-spacing:-0.45px;color:#000;">0.99730</div>
<div class="t" style="left:1620px;top:145px;letter-spacing:-0.45px;color:#000;">0.99360</div>
<div class="t" style="left:1620px;top:178px;letter-spacing:-0.45px;color:#000;">0.98980</div>
<div class="t" style="left:1620px;top:211px;letter-spacing:-0.45px;color:#000;">0.98600</div>
<div class="t" style="left:1620px;top:244px;letter-spacing:-0.45px;color:#000;">0.98220</div>
<div class="t" style="left:1620px;top:277px;letter-spacing:-0.45px;color:#000;">0.97850</div>
<div class="t" style="left:1620px;top:310px;letter-spacing:-0.45px;color:#000;">0.97470</div>
<div class="t" style="left:1620px;top:343px;letter-spacing:-0.45px;color:#000;">0.97090</div>
<div class="t" style="left:1620px;top:376px;letter-spacing:-0.45px;color:#000;">0.96710</div>
<div class="t" style="left:1620px;top:409px;letter-spacing:-0.45px;color:#000;">0.96340</div>
<div class="t" style="left:1620px;top:442px;letter-spacing:-0.45px;color:#000;">0.95960</div>
<div class="t" style="left:1620px;top:475px;letter-spacing:-0.45px;color:#000;">0.95590</div>
<div class="t" style="left:1620px;top:508px;letter-spacing:-0.45px;color:#000;">0.95210</div>
<div class="t" style="left:1620px;top:541px;letter-spacing:-0.45px;color:#000;">0.94830</div>
<div class="t" style="left:1618px;top:553px;letter-spacing:-0.45px;color:#000;">0.00711</div>
<div class="t" style="left:1618px;top:615px;letter-spacing:-0.45px;color:#000;">0.00</div>
<div class="t" style="left:1618px;top:674px;letter-spacing:-0.45px;color:#000;">-0.006888</div>
<div class="t" style="left:1618px;top:690px;letter-spacing:-0.45px;color:#000;">100</div>
<div class="t" style="left:1617px;top:708px;letter-spacing:-0.45px;color:#000;">80</div>
<div class="t" style="left:1617px;top:743px;letter-spacing:-0.45px;color:#000;">50</div>
<div class="t" style="left:1617px;top:785px;letter-spacing:-0.45px;color:#000;">15</div>
<div class="t" style="left:1618px;top:796px;letter-spacing:-0.45px;color:#000;">0</div>
<div class="t" style="left:3.5px;top:28px;letter-spacing:-0.3px;color:#000;">USDCHF-,H4&nbsp; 0.96062 0.96101 0.96059 0.96092</div>
<div class="t" style="left:-8.6px;top:555px;letter-spacing:-0.33px;color:#000;">MACD(12,26,9) 0.000920 0.000566</div>
<div class="t" style="left:-9px;top:692px;letter-spacing:-0.3px;color:#000;">RSI(14) 57.4478</div>
<div class="t" style="left:-13px;top:812px;letter-spacing:-0.25px;color:#000;">27 May 2022</div>
<div class="t" style="left:51px;top:812px;letter-spacing:-0.25px;color:#000;">30 May 12:00</div>
<div class="t" style="left:115px;top:812px;letter-spacing:-0.25px;color:#000;">31 May 20:00</div>
<div class="t" style="left:179px;top:812px;letter-spacing:-0.42px;color:#000;">2 Jun 04:00</div>
<div class="t" style="left:243px;top:812px;letter-spacing:-0.42px;color:#000;">3 Jun 12:00</div>
<div class="t" style="left:307px;top:812px;letter-spacing:-0.42px;color:#000;">6 Jun 20:00</div>
<div class="t" style="left:371px;top:812px;letter-spacing:-0.42px;color:#000;">8 Jun 04:00</div>
<div class="t" style="left:435px;top:812px;letter-spacing:-0.42px;color:#000;">9 Jun 12:00</div>
<div class="t" style="left:499px;top:812px;letter-spacing:-0.42px;color:#000;">12 Jun 23:00</div>
<div class="t" style="left:563px;top:812px;letter-spacing:-0.42px;color:#000;">14 Jun 04:00</div>
<div class="t" style="left:627px;top:812px;letter-spacing:-0.42px;color:#000;">15 Jun 12:00</div>
<div class="t" style="left:691px;top:812px;letter-spacing:-0.42px;color:#000;">16 Jun 20:00</div>
<div class="t" style="left:755px;top:812px;letter-spacing:-0.42px;color:#000;">20 Jun 04:00</div>
<div class="t" style="left:819px;top:812px;letter-spacing:-0.42px;color:#000;">21 Jun 12:00</div>
<div class="t" style="left:883px;top:812px;letter-spacing:-0.42px;color:#000;">22 Jun 20:00</div>
<div class="t" style="left:947px;top:812px;letter-spacing:-0.42px;color:#000;">24 Jun 04:00</div>
<div class="t" style="left:1011px;top:812px;letter-spacing:-0.42px;color:#000;">27 Jun 12:00</div>
<div class="t" style="left:1075px;top:812px;letter-spacing:-0.42px;color:#000;">28 Jun 20:00</div>
<div class="t" style="left:1139px;top:812px;letter-spacing:-0.42px;color:#000;">30 Jun 04:00</div>
<div class="t" style="left:1203px;top:812px;letter-spacing:-0.25px;color:#000;">1 Jul 12:00</div>
<div class="t" style="left:1267px;top:812px;letter-spacing:-0.25px;color:#000;">4 Jul 20:00</div>
<div class="b" style="top:370px;background:#f00">0.96763</div>
<div class="b" style="top:399px;background:#f00">0.96432</div>
<div class="b" style="top:430px;background:#000">0.96092</div>
<div class="b" style="top:442px;background:#ffa500">0.95941</div>
<div class="b" style="top:470px;background:#00f">0.95622</div>
<div class="b" style="top:496px;background:#00f">0.95325</div>
</div></body></html>
